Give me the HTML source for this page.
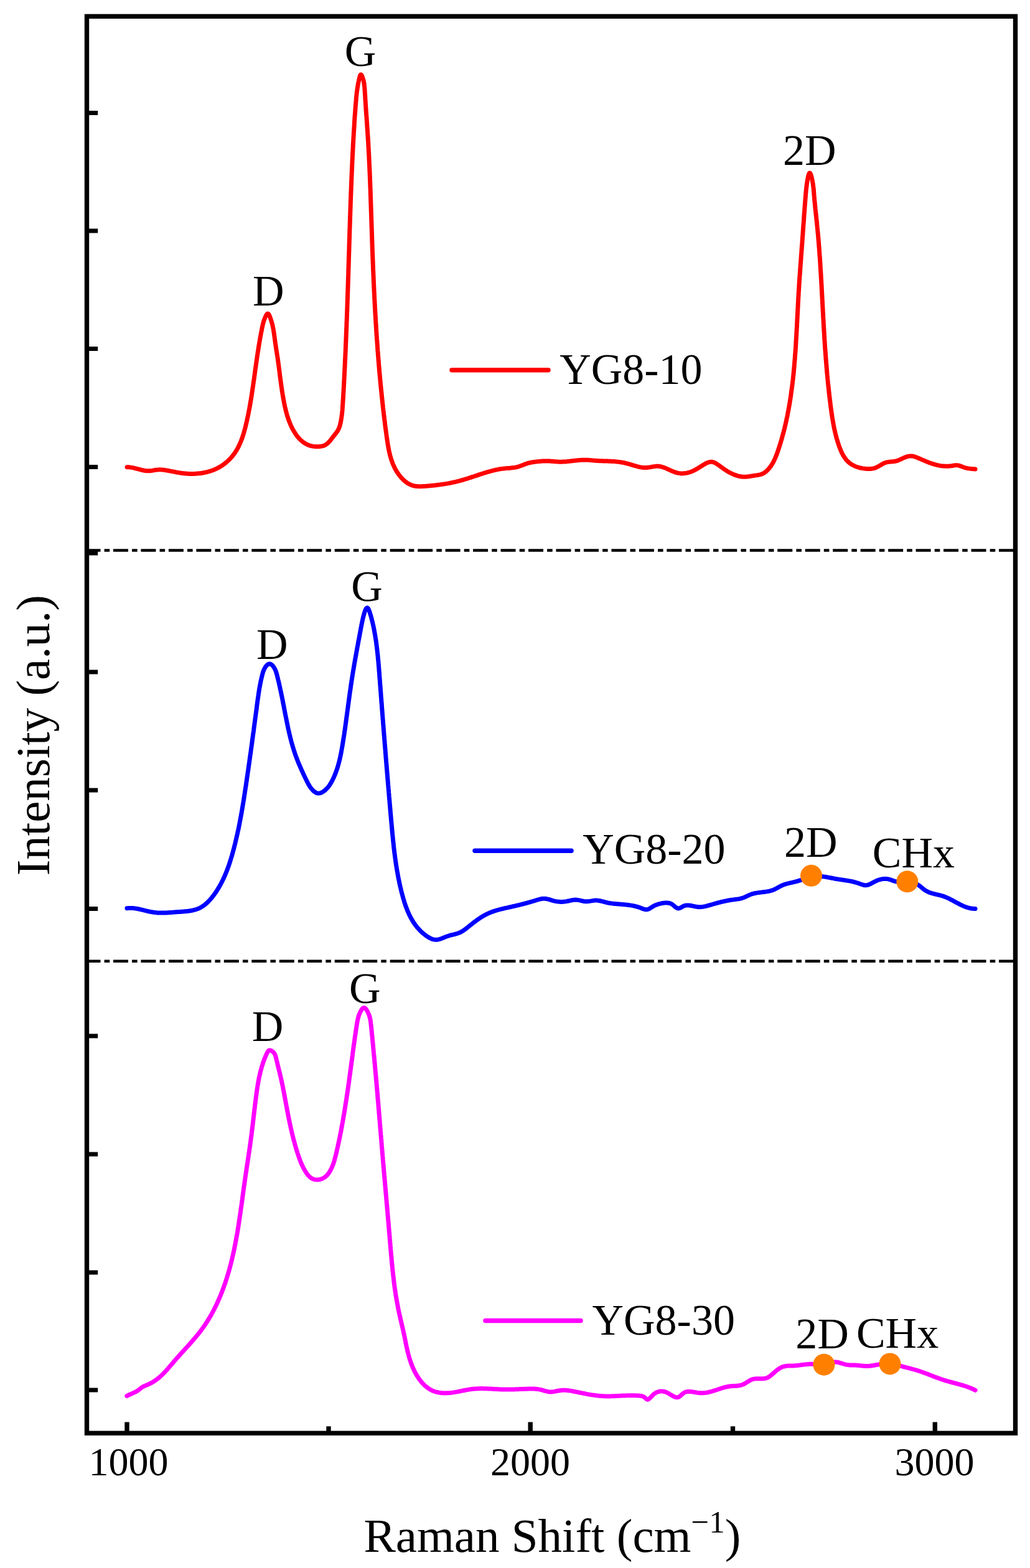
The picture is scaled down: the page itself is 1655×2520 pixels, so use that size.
<!DOCTYPE html>
<html><head><meta charset="utf-8"><title>Raman spectra</title>
<style>html,body{margin:0;padding:0;background:#fff;}svg{display:block;}</style>
</head><body>
<svg xmlns="http://www.w3.org/2000/svg" width="1655" height="2520" viewBox="0 0 1655 2520">
<rect width="1655" height="2520" fill="#fff"/>
<line x1="137.5" y1="884.5" x2="1631" y2="884.5" stroke="#000" stroke-width="4.6" stroke-dasharray="24 6.1 8.6 5.77"/>
<line x1="137.5" y1="1544.7" x2="1631" y2="1544.7" stroke="#000" stroke-width="4.6" stroke-dasharray="24 6.1 8.6 5.77"/>
<rect x="140" y="178.0" width="17.2" height="7" fill="#000"/>
<rect x="140" y="367.5" width="17.2" height="7" fill="#000"/>
<rect x="140" y="557.0" width="17.2" height="7" fill="#000"/>
<rect x="140" y="747.0" width="17.2" height="7" fill="#000"/>
<rect x="140" y="885.5" width="17.2" height="7" fill="#000"/>
<rect x="140" y="1076.5" width="17.2" height="7" fill="#000"/>
<rect x="140" y="1266.5" width="17.2" height="7" fill="#000"/>
<rect x="140" y="1457.0" width="17.2" height="7" fill="#000"/>
<rect x="140" y="1661.5" width="17.2" height="7" fill="#000"/>
<rect x="140" y="1851.5" width="17.2" height="7" fill="#000"/>
<rect x="140" y="2041.5" width="17.2" height="7" fill="#000"/>
<rect x="140" y="2230.5" width="17.2" height="7" fill="#000"/>
<rect x="200.3" y="2285.5" width="7.4" height="18" fill="#000"/>
<rect x="848.5" y="2285.5" width="7.4" height="18" fill="#000"/>
<rect x="1498.6" y="2285.5" width="7.4" height="18" fill="#000"/>
<rect x="524.3" y="2292.3" width="7.4" height="10" fill="#000"/>
<rect x="1173.8" y="2292.3" width="7.4" height="10" fill="#000"/>
<rect x="139.5" y="26.3" width="1492" height="2277" fill="none" stroke="#000" stroke-width="7.4"/>
<path d="M204.1,750.7 L205.6,750.7 L207.0,750.8 L208.5,750.9 L210.0,751.1 L211.5,751.4 L212.9,751.6 L214.4,751.9 L215.9,752.3 L217.4,752.7 L218.9,753.0 L220.3,753.4 L221.8,753.8 L223.3,754.2 L224.8,754.6 L226.3,755.0 L227.8,755.4 L229.3,755.7 L230.7,756.0 L232.2,756.3 L233.7,756.5 L235.2,756.7 L236.7,756.8 L238.2,756.8 L239.7,756.8 L241.2,756.7 L242.7,756.6 L244.2,756.4 L245.7,756.1 L247.1,755.8 L248.6,755.5 L250.1,755.3 L251.6,755.1 L253.1,754.9 L254.6,754.9 L256.1,754.8 L257.6,754.8 L259.1,754.9 L260.5,755.0 L262.0,755.1 L263.5,755.3 L265.0,755.5 L266.4,755.7 L267.9,756.0 L269.4,756.2 L270.9,756.5 L272.3,756.8 L273.8,757.1 L275.2,757.4 L276.7,757.7 L278.2,757.9 L279.6,758.2 L281.1,758.5 L282.5,758.8 L284.0,759.1 L285.4,759.3 L286.9,759.6 L288.4,759.8 L289.8,760.1 L291.3,760.3 L292.8,760.5 L294.3,760.7 L295.8,760.8 L297.3,761.0 L298.8,761.1 L300.3,761.2 L301.8,761.3 L303.3,761.4 L304.8,761.4 L306.3,761.5 L307.9,761.5 L309.4,761.5 L310.9,761.5 L312.4,761.4 L313.9,761.3 L315.4,761.2 L317.0,761.1 L318.5,761.0 L320.0,760.8 L321.5,760.7 L323.0,760.5 L324.5,760.3 L326.0,760.0 L327.5,759.7 L329.0,759.4 L330.4,759.1 L331.9,758.8 L333.4,758.4 L334.8,758.0 L336.3,757.6 L337.7,757.2 L339.1,756.7 L340.6,756.2 L342.0,755.7 L343.4,755.2 L344.7,754.6 L346.1,754.0 L347.5,753.4 L348.8,752.7 L350.2,752.0 L351.5,751.3 L352.8,750.6 L354.1,749.8 L355.4,749.1 L356.6,748.2 L357.9,747.4 L359.1,746.5 L360.3,745.6 L361.5,744.7 L362.7,743.8 L363.8,742.8 L364.9,741.9 L366.1,740.9 L367.2,739.8 L368.2,738.8 L369.3,737.7 L370.3,736.6 L371.3,735.5 L372.3,734.4 L373.3,733.3 L374.2,732.1 L375.1,730.9 L376.0,729.8 L376.9,728.5 L377.7,727.3 L378.5,726.1 L379.3,724.8 L380.1,723.6 L380.8,722.3 L381.6,721.0 L382.3,719.7 L383.0,718.4 L383.6,717.0 L384.3,715.7 L384.9,714.3 L385.5,713.0 L386.1,711.6 L386.7,710.2 L387.3,708.8 L387.8,707.4 L388.3,706.0 L388.9,704.6 L389.4,703.2 L389.9,701.7 L390.3,700.3 L390.8,698.9 L391.2,697.4 L391.7,696.0 L392.1,694.5 L392.5,693.0 L392.9,691.6 L393.3,690.1 L393.7,688.6 L394.1,687.1 L394.5,685.7 L394.8,684.2 L395.2,682.7 L395.5,681.2 L395.9,679.7 L396.2,678.3 L396.6,676.8 L396.9,675.3 L397.2,673.8 L397.5,672.4 L397.8,670.9 L398.2,669.4 L398.5,667.9 L398.8,666.5 L399.1,665.0 L399.4,663.5 L399.6,662.0 L399.9,660.6 L400.2,659.1 L400.5,657.6 L400.8,656.2 L401.0,654.7 L401.3,653.2 L401.6,651.7 L401.8,650.3 L402.1,648.8 L402.3,647.3 L402.6,645.9 L402.8,644.4 L403.1,642.9 L403.3,641.4 L403.6,640.0 L403.8,638.5 L404.0,637.0 L404.3,635.6 L404.5,634.1 L404.7,632.6 L404.9,631.1 L405.2,629.7 L405.4,628.2 L405.6,626.7 L405.8,625.2 L406.0,623.8 L406.3,622.3 L406.5,620.8 L406.7,619.3 L406.9,617.9 L407.1,616.4 L407.3,614.9 L407.5,613.4 L407.7,611.9 L408.0,610.5 L408.2,609.0 L408.4,607.5 L408.6,606.0 L408.8,604.5 L409.0,603.0 L409.2,601.6 L409.4,600.1 L409.6,598.6 L409.8,597.1 L410.0,595.6 L410.2,594.1 L410.4,592.6 L410.6,591.1 L410.9,589.6 L411.1,588.1 L411.3,586.6 L411.5,585.1 L411.7,583.6 L411.9,582.1 L412.1,580.6 L412.3,579.1 L412.6,577.6 L412.8,576.1 L413.0,574.6 L413.2,573.2 L413.4,571.7 L413.7,570.2 L413.9,568.7 L414.1,567.2 L414.3,565.7 L414.6,564.2 L414.8,562.7 L415.0,561.2 L415.3,559.7 L415.5,558.2 L415.7,556.8 L416.0,555.3 L416.2,553.8 L416.5,552.3 L416.7,550.8 L417.0,549.4 L417.2,547.9 L417.5,546.4 L417.7,545.0 L418.0,543.5 L418.2,542.0 L418.5,540.6 L418.8,539.1 L419.1,537.6 L419.3,536.2 L419.6,534.7 L419.9,533.3 L420.2,531.8 L420.5,530.4 L420.7,529.0 L421.0,527.5 L421.3,526.1 L421.6,524.7 L421.9,523.2 L422.3,521.8 L422.6,520.3 L423.0,518.9 L423.4,517.4 L423.9,515.9 L424.4,514.3 L425.0,512.8 L425.6,511.2 L426.3,509.5 L427.0,507.9 L427.8,506.5 L428.6,505.3 L429.3,504.4 L430.1,504.1 L430.9,504.2 L431.6,504.9 L432.3,506.0 L433.0,507.3 L433.6,508.9 L434.2,510.5 L434.8,512.1 L435.3,513.7 L435.8,515.3 L436.3,516.8 L436.7,518.4 L437.2,519.9 L437.5,521.4 L437.9,522.9 L438.2,524.4 L438.5,525.9 L438.8,527.4 L439.1,528.9 L439.4,530.4 L439.6,531.8 L439.9,533.3 L440.1,534.7 L440.3,536.2 L440.5,537.6 L440.7,539.1 L440.9,540.5 L441.1,542.0 L441.3,543.4 L441.5,544.8 L441.7,546.3 L441.9,547.7 L442.1,549.2 L442.3,550.7 L442.5,552.1 L442.7,553.6 L442.9,555.1 L443.2,556.5 L443.4,558.0 L443.6,559.5 L443.8,561.0 L444.1,562.5 L444.3,564.0 L444.5,565.5 L444.8,567.0 L445.0,568.5 L445.2,570.0 L445.5,571.4 L445.7,572.9 L445.9,574.4 L446.1,575.9 L446.4,577.4 L446.6,578.9 L446.8,580.4 L447.0,581.9 L447.2,583.4 L447.4,584.9 L447.6,586.4 L447.8,587.9 L448.0,589.4 L448.2,590.9 L448.4,592.4 L448.6,593.9 L448.8,595.4 L449.0,596.9 L449.2,598.4 L449.4,599.9 L449.5,601.4 L449.7,602.9 L449.9,604.4 L450.1,605.9 L450.3,607.4 L450.5,608.9 L450.7,610.3 L450.9,611.8 L451.1,613.3 L451.3,614.8 L451.5,616.3 L451.7,617.8 L451.9,619.3 L452.1,620.8 L452.3,622.3 L452.6,623.7 L452.8,625.2 L453.0,626.7 L453.2,628.2 L453.4,629.7 L453.7,631.1 L453.9,632.6 L454.1,634.1 L454.4,635.6 L454.6,637.0 L454.9,638.5 L455.2,640.0 L455.4,641.5 L455.7,642.9 L456.0,644.4 L456.2,645.9 L456.5,647.3 L456.8,648.8 L457.1,650.3 L457.4,651.7 L457.7,653.2 L458.1,654.6 L458.4,656.1 L458.7,657.5 L459.1,659.0 L459.4,660.4 L459.8,661.9 L460.2,663.3 L460.6,664.8 L461.0,666.2 L461.4,667.6 L461.8,669.1 L462.3,670.5 L462.8,671.9 L463.2,673.3 L463.7,674.7 L464.2,676.1 L464.8,677.5 L465.3,678.9 L465.9,680.3 L466.5,681.7 L467.1,683.1 L467.7,684.4 L468.3,685.8 L469.0,687.2 L469.7,688.5 L470.4,689.9 L471.1,691.2 L471.9,692.5 L472.7,693.8 L473.5,695.2 L474.3,696.4 L475.1,697.7 L476.0,699.0 L476.9,700.2 L477.8,701.4 L478.8,702.6 L479.8,703.7 L480.8,704.9 L481.8,705.9 L482.9,707.0 L484.0,708.0 L485.1,709.0 L486.2,709.9 L487.4,710.8 L488.6,711.6 L489.9,712.4 L491.1,713.2 L492.4,713.9 L493.8,714.5 L495.1,715.1 L496.5,715.6 L497.9,716.1 L499.4,716.5 L500.8,716.8 L502.3,717.1 L503.8,717.4 L505.3,717.6 L506.8,717.7 L508.3,717.8 L509.8,717.8 L511.3,717.8 L512.8,717.7 L514.3,717.5 L515.8,717.3 L517.3,717.1 L518.8,716.7 L520.2,716.3 L521.6,715.7 L522.9,715.0 L524.1,714.3 L525.3,713.4 L526.4,712.4 L527.5,711.4 L528.6,710.3 L529.6,709.2 L530.5,708.1 L531.5,706.9 L532.4,705.7 L533.3,704.5 L534.2,703.3 L535.1,702.1 L536.1,700.9 L537.0,699.7 L538.0,698.6 L538.9,697.4 L539.8,696.2 L540.7,695.0 L541.5,693.8 L542.4,692.6 L543.1,691.3 L543.8,690.0 L544.4,688.7 L545.0,687.3 L545.5,685.9 L546.0,684.4 L546.4,683.0 L546.7,681.5 L547.1,680.0 L547.4,678.5 L547.7,677.0 L548.0,675.5 L548.2,674.0 L548.5,672.6 L548.7,671.1 L548.9,669.6 L549.1,668.1 L549.3,666.6 L549.5,665.1 L549.6,663.6 L549.8,662.1 L549.9,660.6 L550.1,659.1 L550.2,657.6 L550.3,656.1 L550.4,654.6 L550.5,653.2 L550.6,651.7 L550.7,650.2 L550.8,648.7 L550.9,647.2 L551.0,645.7 L551.1,644.2 L551.2,642.7 L551.3,641.2 L551.4,639.7 L551.5,638.2 L551.5,636.7 L551.6,635.2 L551.7,633.7 L551.8,632.2 L551.9,630.7 L552.0,629.2 L552.0,627.7 L552.1,626.2 L552.2,624.7 L552.3,623.2 L552.4,621.7 L552.5,620.2 L552.5,618.7 L552.6,617.2 L552.7,615.7 L552.8,614.2 L552.9,612.7 L552.9,611.2 L553.0,609.7 L553.1,608.2 L553.2,606.7 L553.2,605.3 L553.3,603.8 L553.4,602.3 L553.5,600.8 L553.5,599.3 L553.6,597.8 L553.7,596.3 L553.8,594.8 L553.8,593.3 L553.9,591.8 L554.0,590.3 L554.1,588.8 L554.1,587.3 L554.2,585.8 L554.3,584.3 L554.3,582.8 L554.4,581.3 L554.5,579.8 L554.5,578.3 L554.6,576.8 L554.7,575.3 L554.8,573.8 L554.8,572.3 L554.9,570.8 L555.0,569.3 L555.0,567.8 L555.1,566.3 L555.2,564.8 L555.2,563.3 L555.3,561.8 L555.4,560.3 L555.4,558.8 L555.5,557.3 L555.5,555.8 L555.6,554.3 L555.7,552.8 L555.7,551.3 L555.8,549.8 L555.9,548.3 L555.9,546.8 L556.0,545.3 L556.0,543.8 L556.1,542.3 L556.2,540.8 L556.2,539.3 L556.3,537.8 L556.3,536.3 L556.4,534.8 L556.5,533.3 L556.5,531.8 L556.6,530.3 L556.6,528.8 L556.7,527.3 L556.8,525.8 L556.8,524.3 L556.9,522.8 L556.9,521.3 L557.0,519.8 L557.0,518.3 L557.1,516.8 L557.2,515.3 L557.2,513.8 L557.3,512.3 L557.3,510.8 L557.4,509.3 L557.4,507.8 L557.5,506.3 L557.5,504.8 L557.6,503.3 L557.7,501.8 L557.7,500.3 L557.8,498.8 L557.8,497.3 L557.9,495.8 L557.9,494.3 L558.0,492.8 L558.0,491.3 L558.1,489.8 L558.1,488.3 L558.2,486.7 L558.2,485.2 L558.3,483.7 L558.3,482.2 L558.4,480.7 L558.4,479.2 L558.5,477.7 L558.5,476.2 L558.6,474.7 L558.6,473.2 L558.7,471.7 L558.7,470.2 L558.8,468.7 L558.8,467.2 L558.9,465.7 L558.9,464.2 L559.0,462.7 L559.0,461.2 L559.1,459.7 L559.1,458.2 L559.2,456.7 L559.2,455.2 L559.3,453.7 L559.3,452.2 L559.4,450.7 L559.4,449.2 L559.5,447.7 L559.5,446.2 L559.6,444.7 L559.6,443.2 L559.7,441.7 L559.7,440.2 L559.8,438.7 L559.8,437.2 L559.8,435.7 L559.9,434.2 L559.9,432.7 L560.0,431.2 L560.0,429.7 L560.1,428.2 L560.1,426.7 L560.2,425.2 L560.2,423.7 L560.3,422.2 L560.3,420.7 L560.4,419.2 L560.4,417.7 L560.4,416.2 L560.5,414.7 L560.5,413.2 L560.6,411.7 L560.6,410.2 L560.7,408.7 L560.7,407.2 L560.8,405.7 L560.8,404.3 L560.9,402.8 L560.9,401.3 L561.0,399.8 L561.0,398.3 L561.0,396.8 L561.1,395.3 L561.1,393.8 L561.2,392.3 L561.2,390.8 L561.3,389.3 L561.3,387.8 L561.4,386.3 L561.4,384.8 L561.5,383.3 L561.5,381.8 L561.6,380.3 L561.6,378.8 L561.6,377.3 L561.7,375.8 L561.7,374.3 L561.8,372.8 L561.8,371.3 L561.9,369.8 L561.9,368.3 L562.0,366.8 L562.0,365.3 L562.1,363.8 L562.1,362.3 L562.2,360.8 L562.2,359.3 L562.3,357.8 L562.3,356.3 L562.4,354.8 L562.4,353.3 L562.5,351.8 L562.5,350.3 L562.6,348.8 L562.6,347.3 L562.7,345.8 L562.7,344.3 L562.8,342.8 L562.8,341.3 L562.9,339.8 L562.9,338.3 L563.0,336.8 L563.0,335.3 L563.1,333.8 L563.1,332.3 L563.2,330.8 L563.2,329.3 L563.3,327.8 L563.3,326.3 L563.4,324.8 L563.4,323.3 L563.5,321.8 L563.5,320.3 L563.6,318.8 L563.7,317.3 L563.7,315.8 L563.8,314.3 L563.8,312.8 L563.9,311.3 L563.9,309.8 L564.0,308.3 L564.0,306.8 L564.1,305.3 L564.2,303.8 L564.2,302.3 L564.3,300.8 L564.3,299.3 L564.4,297.8 L564.5,296.3 L564.5,294.8 L564.6,293.3 L564.6,291.8 L564.7,290.3 L564.8,288.8 L564.8,287.3 L564.9,285.8 L564.9,284.3 L565.0,282.8 L565.1,281.3 L565.1,279.8 L565.2,278.3 L565.3,276.8 L565.3,275.3 L565.4,273.8 L565.5,272.3 L565.5,270.8 L565.6,269.3 L565.7,267.8 L565.7,266.3 L565.8,264.8 L565.9,263.3 L565.9,261.8 L566.0,260.3 L566.1,258.8 L566.1,257.3 L566.2,255.8 L566.3,254.3 L566.4,252.8 L566.4,251.3 L566.5,249.8 L566.6,248.3 L566.7,246.8 L566.7,245.3 L566.8,243.8 L566.9,242.3 L567.0,240.8 L567.0,239.3 L567.1,237.8 L567.2,236.3 L567.3,234.7 L567.3,233.2 L567.4,231.7 L567.5,230.2 L567.6,228.7 L567.7,227.2 L567.7,225.7 L567.8,224.2 L567.9,222.7 L568.0,221.2 L568.1,219.7 L568.2,218.2 L568.3,216.7 L568.3,215.2 L568.4,213.7 L568.5,212.2 L568.6,210.7 L568.7,209.2 L568.8,207.7 L568.9,206.2 L569.0,204.7 L569.1,203.2 L569.2,201.7 L569.3,200.2 L569.3,198.7 L569.4,197.2 L569.5,195.7 L569.6,194.2 L569.7,192.7 L569.8,191.2 L569.9,189.8 L570.0,188.3 L570.1,186.8 L570.2,185.3 L570.4,183.8 L570.5,182.3 L570.6,180.8 L570.7,179.3 L570.8,177.9 L570.9,176.4 L571.0,174.9 L571.1,173.4 L571.2,171.9 L571.3,170.5 L571.5,169.0 L571.6,167.5 L571.7,166.0 L571.8,164.6 L571.9,163.1 L572.1,161.6 L572.2,160.2 L572.3,158.7 L572.4,157.2 L572.6,155.7 L572.7,154.3 L572.9,152.8 L573.1,151.3 L573.2,149.8 L573.4,148.3 L573.6,146.8 L573.8,145.3 L574.0,143.8 L574.2,142.3 L574.4,140.7 L574.7,139.2 L574.9,137.6 L575.2,136.1 L575.5,134.5 L575.8,132.9 L576.1,131.4 L576.5,129.7 L576.8,128.1 L577.2,126.5 L577.6,124.9 L578.0,123.3 L578.4,121.8 L578.9,120.7 L579.4,120.0 L580.0,119.8 L580.6,120.2 L581.2,121.2 L581.8,122.5 L582.4,124.0 L583.0,125.7 L583.5,127.4 L584.0,129.0 L584.3,130.6 L584.7,132.2 L584.9,133.7 L585.2,135.2 L585.4,136.7 L585.5,138.1 L585.7,139.6 L585.8,141.0 L585.9,142.5 L586.0,143.9 L586.1,145.4 L586.2,146.9 L586.3,148.3 L586.4,149.8 L586.5,151.3 L586.6,152.8 L586.7,154.3 L586.8,155.8 L586.8,157.3 L586.9,158.8 L587.0,160.3 L587.1,161.8 L587.2,163.3 L587.3,164.8 L587.4,166.3 L587.5,167.8 L587.6,169.3 L587.7,170.8 L587.8,172.3 L587.9,173.8 L588.0,175.3 L588.1,176.8 L588.2,178.3 L588.3,179.8 L588.4,181.3 L588.5,182.8 L588.6,184.3 L588.8,185.8 L588.9,187.3 L589.0,188.8 L589.1,190.3 L589.2,191.8 L589.3,193.3 L589.4,194.8 L589.5,196.3 L589.6,197.8 L589.7,199.3 L589.8,200.8 L589.9,202.3 L590.0,203.8 L590.1,205.3 L590.2,206.8 L590.3,208.3 L590.4,209.8 L590.5,211.3 L590.6,212.8 L590.7,214.3 L590.8,215.8 L590.9,217.3 L591.0,218.8 L591.1,220.3 L591.2,221.8 L591.3,223.3 L591.4,224.8 L591.5,226.3 L591.6,227.7 L591.7,229.2 L591.8,230.7 L591.8,232.2 L591.9,233.7 L592.0,235.2 L592.1,236.7 L592.2,238.2 L592.3,239.7 L592.3,241.2 L592.4,242.7 L592.5,244.2 L592.6,245.7 L592.7,247.2 L592.7,248.7 L592.8,250.2 L592.9,251.7 L593.0,253.2 L593.0,254.7 L593.1,256.2 L593.2,257.7 L593.2,259.2 L593.3,260.7 L593.4,262.2 L593.5,263.7 L593.5,265.2 L593.6,266.7 L593.7,268.2 L593.7,269.7 L593.8,271.2 L593.9,272.7 L593.9,274.2 L594.0,275.7 L594.1,277.2 L594.1,278.7 L594.2,280.2 L594.2,281.7 L594.3,283.2 L594.4,284.7 L594.4,286.2 L594.5,287.7 L594.5,289.2 L594.6,290.7 L594.7,292.2 L594.7,293.7 L594.8,295.2 L594.8,296.7 L594.9,298.2 L594.9,299.7 L595.0,301.2 L595.1,302.7 L595.1,304.2 L595.2,305.7 L595.2,307.2 L595.3,308.7 L595.3,310.2 L595.4,311.7 L595.4,313.2 L595.5,314.7 L595.5,316.2 L595.6,317.7 L595.6,319.2 L595.7,320.7 L595.7,322.2 L595.8,323.7 L595.8,325.2 L595.9,326.7 L595.9,328.2 L596.0,329.7 L596.0,331.2 L596.1,332.7 L596.1,334.2 L596.2,335.7 L596.2,337.2 L596.3,338.7 L596.3,340.2 L596.4,341.7 L596.4,343.2 L596.5,344.7 L596.5,346.2 L596.6,347.7 L596.6,349.2 L596.7,350.7 L596.7,352.2 L596.8,353.7 L596.8,355.2 L596.9,356.7 L596.9,358.2 L597.0,359.7 L597.0,361.2 L597.1,362.7 L597.1,364.2 L597.2,365.7 L597.2,367.2 L597.3,368.7 L597.3,370.2 L597.4,371.7 L597.4,373.2 L597.5,374.7 L597.5,376.2 L597.6,377.7 L597.6,379.2 L597.7,380.7 L597.7,382.2 L597.8,383.7 L597.8,385.2 L597.9,386.7 L597.9,388.2 L598.0,389.7 L598.0,391.2 L598.1,392.7 L598.1,394.2 L598.2,395.7 L598.2,397.2 L598.3,398.7 L598.3,400.2 L598.4,401.7 L598.4,403.2 L598.5,404.7 L598.6,406.2 L598.6,407.7 L598.7,409.2 L598.7,410.7 L598.8,412.2 L598.8,413.7 L598.9,415.2 L598.9,416.7 L599.0,418.2 L599.1,419.7 L599.1,421.2 L599.2,422.7 L599.2,424.2 L599.3,425.7 L599.4,427.2 L599.4,428.7 L599.5,430.2 L599.5,431.7 L599.6,433.2 L599.7,434.7 L599.7,436.2 L599.8,437.7 L599.9,439.2 L599.9,440.7 L600.0,442.2 L600.0,443.7 L600.1,445.2 L600.2,446.7 L600.2,448.2 L600.3,449.7 L600.4,451.2 L600.4,452.7 L600.5,454.2 L600.6,455.7 L600.6,457.2 L600.7,458.7 L600.8,460.2 L600.8,461.7 L600.9,463.2 L601.0,464.7 L601.1,466.2 L601.1,467.7 L601.2,469.2 L601.3,470.7 L601.4,472.2 L601.4,473.7 L601.5,475.2 L601.6,476.7 L601.6,478.2 L601.7,479.7 L601.8,481.2 L601.9,482.7 L602.0,484.2 L602.0,485.7 L602.1,487.2 L602.2,488.7 L602.3,490.2 L602.3,491.7 L602.4,493.2 L602.5,494.7 L602.6,496.2 L602.7,497.7 L602.8,499.2 L602.8,500.7 L602.9,502.2 L603.0,503.7 L603.1,505.2 L603.2,506.7 L603.3,508.2 L603.4,509.7 L603.4,511.2 L603.5,512.7 L603.6,514.2 L603.7,515.7 L603.8,517.2 L603.9,518.7 L604.0,520.2 L604.1,521.7 L604.2,523.2 L604.3,524.7 L604.4,526.2 L604.5,527.6 L604.5,529.1 L604.6,530.6 L604.7,532.1 L604.8,533.6 L604.9,535.1 L605.0,536.6 L605.1,538.1 L605.2,539.6 L605.3,541.1 L605.4,542.6 L605.5,544.1 L605.6,545.6 L605.8,547.1 L605.9,548.6 L606.0,550.1 L606.1,551.6 L606.2,553.1 L606.3,554.6 L606.4,556.1 L606.5,557.6 L606.6,559.1 L606.7,560.6 L606.8,562.1 L606.9,563.6 L607.1,565.1 L607.2,566.6 L607.3,568.1 L607.4,569.6 L607.5,571.1 L607.6,572.6 L607.8,574.0 L607.9,575.5 L608.0,577.0 L608.1,578.5 L608.2,580.0 L608.4,581.5 L608.5,583.0 L608.6,584.5 L608.7,586.0 L608.8,587.5 L609.0,589.0 L609.1,590.5 L609.2,592.0 L609.4,593.5 L609.5,595.0 L609.6,596.5 L609.7,598.0 L609.9,599.5 L610.0,600.9 L610.1,602.4 L610.3,603.9 L610.4,605.4 L610.6,606.9 L610.7,608.4 L610.8,609.9 L611.0,611.4 L611.1,612.9 L611.2,614.4 L611.4,615.9 L611.5,617.4 L611.7,618.9 L611.8,620.3 L612.0,621.8 L612.1,623.3 L612.3,624.8 L612.4,626.3 L612.6,627.8 L612.7,629.3 L612.9,630.8 L613.0,632.3 L613.2,633.8 L613.3,635.3 L613.5,636.8 L613.6,638.2 L613.8,639.7 L614.0,641.2 L614.1,642.7 L614.3,644.2 L614.4,645.7 L614.6,647.2 L614.8,648.7 L614.9,650.2 L615.1,651.7 L615.3,653.2 L615.4,654.6 L615.6,656.1 L615.8,657.6 L615.9,659.1 L616.1,660.6 L616.3,662.1 L616.5,663.6 L616.6,665.1 L616.8,666.6 L617.0,668.1 L617.2,669.6 L617.3,671.0 L617.5,672.5 L617.7,674.0 L617.9,675.5 L618.1,677.0 L618.3,678.5 L618.5,680.0 L618.6,681.5 L618.8,683.0 L619.0,684.5 L619.2,686.0 L619.4,687.5 L619.6,689.0 L619.8,690.5 L620.0,691.9 L620.2,693.4 L620.4,694.9 L620.6,696.4 L620.8,697.9 L621.0,699.4 L621.2,700.9 L621.4,702.4 L621.6,703.9 L621.8,705.4 L622.1,706.9 L622.3,708.4 L622.5,709.9 L622.7,711.4 L623.0,712.9 L623.2,714.3 L623.4,715.8 L623.7,717.3 L624.0,718.8 L624.2,720.3 L624.5,721.7 L624.8,723.2 L625.1,724.7 L625.4,726.1 L625.8,727.6 L626.1,729.1 L626.4,730.5 L626.8,732.0 L627.2,733.4 L627.6,734.8 L628.0,736.3 L628.5,737.7 L628.9,739.1 L629.4,740.5 L629.9,741.9 L630.4,743.3 L630.9,744.7 L631.5,746.1 L632.1,747.4 L632.7,748.8 L633.3,750.1 L634.0,751.5 L634.6,752.8 L635.3,754.1 L636.1,755.4 L636.8,756.8 L637.6,758.0 L638.4,759.3 L639.3,760.6 L640.2,761.9 L641.1,763.1 L642.0,764.3 L642.9,765.5 L643.9,766.7 L644.9,767.9 L646.0,769.0 L647.1,770.1 L648.2,771.1 L649.3,772.2 L650.4,773.2 L651.6,774.1 L652.8,775.0 L654.0,775.9 L655.3,776.7 L656.5,777.4 L657.8,778.1 L659.1,778.8 L660.5,779.3 L661.9,779.9 L663.2,780.3 L664.6,780.7 L666.1,781.0 L667.5,781.3 L669.0,781.5 L670.5,781.6 L672.0,781.7 L673.5,781.8 L675.0,781.8 L676.5,781.8 L678.0,781.7 L679.6,781.6 L681.1,781.5 L682.6,781.4 L684.2,781.3 L685.7,781.2 L687.2,781.1 L688.8,780.9 L690.3,780.8 L691.8,780.6 L693.3,780.5 L694.8,780.3 L696.3,780.2 L697.8,780.0 L699.3,779.9 L700.8,779.7 L702.3,779.5 L703.8,779.3 L705.3,779.1 L706.8,778.9 L708.3,778.7 L709.8,778.5 L711.3,778.3 L712.7,778.1 L714.2,777.9 L715.7,777.6 L717.2,777.4 L718.6,777.1 L720.1,776.9 L721.6,776.6 L723.0,776.3 L724.5,776.0 L725.9,775.7 L727.4,775.4 L728.8,775.1 L730.3,774.8 L731.8,774.4 L733.2,774.1 L734.7,773.7 L736.1,773.4 L737.5,773.0 L739.0,772.6 L740.4,772.2 L741.9,771.8 L743.3,771.4 L744.8,771.0 L746.2,770.5 L747.6,770.1 L749.1,769.7 L750.5,769.2 L751.9,768.8 L753.4,768.3 L754.8,767.8 L756.2,767.4 L757.7,766.9 L759.1,766.4 L760.5,766.0 L762.0,765.5 L763.4,765.0 L764.8,764.5 L766.3,764.1 L767.7,763.6 L769.1,763.1 L770.5,762.6 L772.0,762.2 L773.4,761.7 L774.8,761.3 L776.3,760.8 L777.7,760.3 L779.1,759.9 L780.6,759.5 L782.0,759.0 L783.5,758.6 L784.9,758.2 L786.3,757.8 L787.8,757.4 L789.2,757.0 L790.7,756.6 L792.1,756.2 L793.6,755.9 L795.0,755.5 L796.5,755.2 L797.9,754.9 L799.4,754.6 L800.8,754.3 L802.3,754.0 L803.8,753.8 L805.3,753.6 L806.8,753.4 L808.3,753.2 L809.8,753.0 L811.3,752.9 L812.8,752.7 L814.3,752.6 L815.8,752.5 L817.3,752.4 L818.8,752.3 L820.3,752.1 L821.8,752.0 L823.3,751.8 L824.8,751.6 L826.3,751.4 L827.8,751.2 L829.3,750.9 L830.7,750.6 L832.2,750.2 L833.6,749.8 L835.0,749.3 L836.4,748.8 L837.8,748.3 L839.2,747.7 L840.6,747.2 L842.0,746.6 L843.4,746.1 L844.8,745.5 L846.2,745.1 L847.7,744.6 L849.1,744.2 L850.6,743.8 L852.0,743.5 L853.5,743.2 L855.0,742.9 L856.5,742.7 L858.0,742.5 L859.4,742.3 L860.9,742.1 L862.4,741.9 L864.0,741.8 L865.5,741.6 L867.0,741.5 L868.5,741.4 L870.0,741.2 L871.5,741.1 L873.0,741.1 L874.5,741.0 L876.0,741.0 L877.4,740.9 L878.9,741.0 L880.4,741.0 L881.9,741.1 L883.4,741.1 L884.9,741.2 L886.4,741.4 L887.9,741.5 L889.4,741.6 L890.9,741.7 L892.4,741.8 L893.9,741.9 L895.4,742.0 L896.9,742.1 L898.4,742.2 L899.9,742.2 L901.4,742.2 L902.9,742.2 L904.4,742.1 L905.9,742.1 L907.3,742.0 L908.8,741.9 L910.3,741.8 L911.8,741.6 L913.3,741.5 L914.8,741.3 L916.3,741.1 L917.8,741.0 L919.3,740.8 L920.8,740.6 L922.3,740.5 L923.8,740.3 L925.3,740.1 L926.8,740.0 L928.3,739.8 L929.8,739.7 L931.3,739.5 L932.8,739.4 L934.3,739.3 L935.8,739.3 L937.3,739.2 L938.8,739.2 L940.3,739.2 L941.8,739.2 L943.3,739.3 L944.8,739.3 L946.3,739.4 L947.8,739.6 L949.3,739.7 L950.8,739.8 L952.3,739.9 L953.8,740.1 L955.3,740.2 L956.8,740.3 L958.3,740.4 L959.8,740.5 L961.3,740.6 L962.8,740.7 L964.3,740.7 L965.8,740.8 L967.3,740.8 L968.8,740.9 L970.3,740.9 L971.8,741.0 L973.3,741.0 L974.8,741.1 L976.3,741.1 L977.8,741.2 L979.3,741.2 L980.8,741.3 L982.3,741.4 L983.8,741.4 L985.3,741.5 L986.7,741.6 L988.2,741.7 L989.7,741.9 L991.2,742.0 L992.7,742.2 L994.2,742.4 L995.7,742.6 L997.2,742.8 L998.6,743.0 L1000.1,743.3 L1001.6,743.5 L1003.1,743.8 L1004.5,744.2 L1006.0,744.5 L1007.4,744.9 L1008.9,745.3 L1010.4,745.7 L1011.8,746.1 L1013.3,746.5 L1014.7,747.0 L1016.2,747.4 L1017.6,747.9 L1019.1,748.3 L1020.5,748.7 L1022.0,749.1 L1023.4,749.5 L1024.9,749.9 L1026.3,750.3 L1027.8,750.6 L1029.3,750.9 L1030.7,751.1 L1032.2,751.3 L1033.7,751.4 L1035.2,751.5 L1036.7,751.6 L1038.2,751.6 L1039.7,751.5 L1041.2,751.3 L1042.7,751.1 L1044.3,750.9 L1045.8,750.6 L1047.3,750.3 L1048.9,750.1 L1050.4,749.8 L1051.9,749.6 L1053.4,749.4 L1054.9,749.3 L1056.4,749.3 L1057.9,749.3 L1059.3,749.5 L1060.8,749.7 L1062.2,750.0 L1063.6,750.3 L1065.0,750.8 L1066.4,751.2 L1067.8,751.8 L1069.2,752.3 L1070.6,752.9 L1072.0,753.5 L1073.4,754.1 L1074.8,754.8 L1076.1,755.4 L1077.5,756.0 L1078.9,756.7 L1080.3,757.3 L1081.7,757.8 L1083.1,758.4 L1084.5,758.9 L1086.0,759.4 L1087.4,759.8 L1088.9,760.1 L1090.3,760.4 L1091.8,760.6 L1093.3,760.8 L1094.8,760.9 L1096.3,760.9 L1097.9,760.8 L1099.4,760.7 L1100.9,760.6 L1102.3,760.4 L1103.8,760.1 L1105.3,759.7 L1106.7,759.4 L1108.1,758.9 L1109.5,758.5 L1110.9,757.9 L1112.2,757.4 L1113.6,756.8 L1114.9,756.2 L1116.2,755.5 L1117.5,754.8 L1118.8,754.1 L1120.1,753.3 L1121.4,752.6 L1122.7,751.8 L1124.0,751.0 L1125.3,750.1 L1126.7,749.3 L1128.0,748.4 L1129.4,747.6 L1130.8,746.7 L1132.1,745.9 L1133.5,745.2 L1134.9,744.4 L1136.3,743.8 L1137.8,743.2 L1139.2,742.8 L1140.6,742.5 L1142.0,742.3 L1143.4,742.3 L1144.8,742.5 L1146.2,742.8 L1147.6,743.3 L1149.0,744.0 L1150.3,744.7 L1151.7,745.6 L1153.0,746.4 L1154.3,747.3 L1155.6,748.2 L1156.8,749.1 L1158.0,750.0 L1159.3,750.9 L1160.5,751.8 L1161.7,752.6 L1162.9,753.5 L1164.1,754.3 L1165.3,755.1 L1166.5,755.9 L1167.7,756.7 L1169.0,757.5 L1170.2,758.2 L1171.5,759.0 L1172.8,759.7 L1174.2,760.4 L1175.6,761.0 L1176.9,761.7 L1178.3,762.3 L1179.8,762.9 L1181.2,763.4 L1182.6,763.9 L1184.1,764.4 L1185.5,764.8 L1187.0,765.2 L1188.5,765.5 L1189.9,765.8 L1191.4,766.0 L1192.9,766.2 L1194.4,766.3 L1195.8,766.3 L1197.3,766.3 L1198.8,766.3 L1200.2,766.1 L1201.7,766.0 L1203.2,765.8 L1204.6,765.6 L1206.1,765.3 L1207.6,765.1 L1209.1,764.8 L1210.6,764.6 L1212.1,764.3 L1213.6,764.1 L1215.1,763.9 L1216.6,763.7 L1218.2,763.4 L1219.7,763.1 L1221.1,762.8 L1222.6,762.4 L1224.0,761.9 L1225.4,761.3 L1226.7,760.7 L1228.0,759.9 L1229.2,759.0 L1230.4,758.1 L1231.6,757.1 L1232.7,756.1 L1233.7,755.0 L1234.8,753.9 L1235.7,752.8 L1236.7,751.6 L1237.6,750.4 L1238.5,749.2 L1239.3,748.0 L1240.1,746.8 L1240.9,745.5 L1241.7,744.2 L1242.4,742.9 L1243.1,741.6 L1243.7,740.3 L1244.4,738.9 L1245.0,737.6 L1245.6,736.2 L1246.2,734.8 L1246.8,733.4 L1247.3,732.0 L1247.9,730.6 L1248.4,729.2 L1248.9,727.8 L1249.4,726.3 L1249.9,724.9 L1250.4,723.5 L1250.9,722.1 L1251.3,720.6 L1251.8,719.2 L1252.3,717.7 L1252.7,716.3 L1253.2,714.9 L1253.6,713.4 L1254.1,712.0 L1254.5,710.6 L1254.9,709.1 L1255.4,707.7 L1255.8,706.2 L1256.2,704.8 L1256.6,703.3 L1257.0,701.9 L1257.4,700.4 L1257.8,699.0 L1258.2,697.5 L1258.6,696.1 L1259.0,694.6 L1259.4,693.2 L1259.7,691.7 L1260.1,690.3 L1260.5,688.8 L1260.8,687.4 L1261.2,685.9 L1261.5,684.4 L1261.9,683.0 L1262.2,681.5 L1262.5,680.1 L1262.9,678.6 L1263.2,677.1 L1263.5,675.7 L1263.8,674.2 L1264.1,672.7 L1264.4,671.3 L1264.8,669.8 L1265.1,668.3 L1265.4,666.9 L1265.6,665.4 L1265.9,663.9 L1266.2,662.5 L1266.5,661.0 L1266.8,659.5 L1267.0,658.1 L1267.3,656.6 L1267.6,655.1 L1267.8,653.6 L1268.1,652.2 L1268.4,650.7 L1268.6,649.2 L1268.9,647.7 L1269.1,646.3 L1269.3,644.8 L1269.6,643.3 L1269.8,641.8 L1270.0,640.3 L1270.3,638.9 L1270.5,637.4 L1270.7,635.9 L1270.9,634.4 L1271.1,632.9 L1271.3,631.4 L1271.5,630.0 L1271.7,628.5 L1271.9,627.0 L1272.1,625.5 L1272.3,624.0 L1272.5,622.5 L1272.7,621.0 L1272.9,619.6 L1273.1,618.1 L1273.3,616.6 L1273.4,615.1 L1273.6,613.6 L1273.8,612.1 L1274.0,610.6 L1274.1,609.1 L1274.3,607.6 L1274.4,606.1 L1274.6,604.6 L1274.8,603.2 L1274.9,601.7 L1275.1,600.2 L1275.2,598.7 L1275.4,597.2 L1275.5,595.7 L1275.6,594.2 L1275.8,592.7 L1275.9,591.2 L1276.1,589.7 L1276.2,588.2 L1276.3,586.7 L1276.4,585.2 L1276.6,583.7 L1276.7,582.2 L1276.8,580.7 L1276.9,579.2 L1277.1,577.7 L1277.2,576.2 L1277.3,574.7 L1277.4,573.2 L1277.5,571.7 L1277.6,570.2 L1277.7,568.7 L1277.9,567.2 L1278.0,565.7 L1278.1,564.2 L1278.2,562.7 L1278.3,561.2 L1278.4,559.7 L1278.5,558.2 L1278.6,556.7 L1278.7,555.2 L1278.8,553.7 L1278.9,552.2 L1278.9,550.7 L1279.0,549.2 L1279.1,547.7 L1279.2,546.2 L1279.3,544.7 L1279.4,543.2 L1279.5,541.7 L1279.6,540.2 L1279.7,538.7 L1279.7,537.2 L1279.8,535.7 L1279.9,534.2 L1280.0,532.7 L1280.1,531.2 L1280.1,529.7 L1280.2,528.2 L1280.3,526.7 L1280.4,525.2 L1280.5,523.7 L1280.5,522.2 L1280.6,520.7 L1280.7,519.2 L1280.8,517.7 L1280.9,516.2 L1280.9,514.7 L1281.0,513.2 L1281.1,511.7 L1281.2,510.2 L1281.2,508.7 L1281.3,507.2 L1281.4,505.7 L1281.5,504.2 L1281.5,502.7 L1281.6,501.2 L1281.7,499.7 L1281.8,498.2 L1281.8,496.7 L1281.9,495.2 L1282.0,493.7 L1282.1,492.2 L1282.2,490.7 L1282.2,489.2 L1282.3,487.7 L1282.4,486.2 L1282.5,484.7 L1282.6,483.2 L1282.6,481.7 L1282.7,480.2 L1282.8,478.7 L1282.9,477.2 L1283.0,475.7 L1283.1,474.2 L1283.1,472.7 L1283.2,471.2 L1283.3,469.7 L1283.4,468.2 L1283.5,466.8 L1283.6,465.3 L1283.7,463.8 L1283.8,462.3 L1283.9,460.8 L1283.9,459.3 L1284.0,457.8 L1284.1,456.3 L1284.2,454.8 L1284.3,453.3 L1284.4,451.8 L1284.5,450.3 L1284.6,448.9 L1284.7,447.4 L1284.8,445.9 L1284.9,444.4 L1285.0,442.9 L1285.1,441.4 L1285.3,439.9 L1285.4,438.4 L1285.5,436.9 L1285.6,435.4 L1285.7,433.9 L1285.8,432.5 L1285.9,431.0 L1286.0,429.5 L1286.1,428.0 L1286.2,426.5 L1286.3,425.0 L1286.4,423.5 L1286.5,422.0 L1286.7,420.5 L1286.8,419.0 L1286.9,417.5 L1287.0,416.0 L1287.1,414.5 L1287.2,413.0 L1287.3,411.5 L1287.4,410.0 L1287.5,408.5 L1287.7,407.0 L1287.8,405.5 L1287.9,404.0 L1288.0,402.5 L1288.1,401.0 L1288.2,399.5 L1288.3,398.0 L1288.4,396.5 L1288.5,395.0 L1288.7,393.5 L1288.8,392.0 L1288.9,390.5 L1289.0,389.0 L1289.1,387.5 L1289.2,386.0 L1289.3,384.4 L1289.4,382.9 L1289.5,381.4 L1289.6,379.9 L1289.8,378.4 L1289.9,376.9 L1290.0,375.4 L1290.1,373.8 L1290.2,372.3 L1290.3,370.8 L1290.4,369.3 L1290.5,367.8 L1290.6,366.3 L1290.7,364.8 L1290.8,363.3 L1290.9,361.8 L1291.0,360.2 L1291.2,358.7 L1291.3,357.2 L1291.4,355.7 L1291.5,354.2 L1291.6,352.7 L1291.7,351.2 L1291.8,349.7 L1291.9,348.2 L1292.0,346.7 L1292.1,345.2 L1292.2,343.8 L1292.3,342.3 L1292.5,340.8 L1292.6,339.3 L1292.7,337.8 L1292.8,336.3 L1292.9,334.9 L1293.0,333.4 L1293.1,331.9 L1293.2,330.5 L1293.3,329.0 L1293.5,327.5 L1293.6,326.1 L1293.7,324.6 L1293.8,323.2 L1293.9,321.7 L1294.0,320.3 L1294.1,318.9 L1294.2,317.4 L1294.4,316.0 L1294.5,314.6 L1294.6,313.1 L1294.7,311.7 L1294.8,310.3 L1295.0,308.9 L1295.1,307.5 L1295.2,306.0 L1295.4,304.6 L1295.5,303.1 L1295.7,301.5 L1295.9,300.0 L1296.1,298.4 L1296.3,296.7 L1296.5,295.0 L1296.8,293.3 L1297.1,291.4 L1297.4,289.6 L1297.7,287.6 L1298.1,285.7 L1298.5,283.9 L1298.9,282.2 L1299.3,280.7 L1299.8,279.5 L1300.3,278.5 L1300.7,278.0 L1301.2,277.9 L1301.7,278.3 L1302.2,279.1 L1302.7,280.2 L1303.2,281.6 L1303.7,283.3 L1304.2,285.1 L1304.6,287.0 L1305.0,288.9 L1305.4,290.8 L1305.7,292.7 L1306.0,294.4 L1306.3,296.1 L1306.5,297.7 L1306.7,299.2 L1306.9,300.7 L1307.1,302.2 L1307.2,303.6 L1307.4,305.0 L1307.5,306.4 L1307.6,307.7 L1307.7,309.1 L1307.8,310.5 L1307.9,311.8 L1308.0,313.2 L1308.1,314.6 L1308.3,316.1 L1308.4,317.5 L1308.5,319.0 L1308.6,320.4 L1308.8,321.9 L1308.9,323.4 L1309.1,324.9 L1309.2,326.4 L1309.4,328.0 L1309.5,329.5 L1309.7,331.0 L1309.8,332.5 L1310.0,334.1 L1310.1,335.6 L1310.3,337.1 L1310.5,338.6 L1310.6,340.2 L1310.8,341.7 L1310.9,343.2 L1311.1,344.7 L1311.3,346.2 L1311.4,347.7 L1311.6,349.2 L1311.7,350.7 L1311.9,352.2 L1312.1,353.7 L1312.2,355.2 L1312.4,356.7 L1312.5,358.2 L1312.7,359.6 L1312.8,361.1 L1313.0,362.6 L1313.1,364.1 L1313.3,365.6 L1313.4,367.1 L1313.6,368.6 L1313.7,370.1 L1313.9,371.6 L1314.0,373.1 L1314.1,374.6 L1314.3,376.0 L1314.4,377.5 L1314.6,379.0 L1314.7,380.5 L1314.8,382.0 L1314.9,383.5 L1315.1,385.0 L1315.2,386.5 L1315.3,388.0 L1315.4,389.5 L1315.6,391.0 L1315.7,392.5 L1315.8,394.0 L1315.9,395.5 L1316.0,397.0 L1316.2,398.5 L1316.3,399.9 L1316.4,401.4 L1316.5,402.9 L1316.6,404.4 L1316.7,405.9 L1316.8,407.4 L1316.9,408.9 L1317.0,410.4 L1317.1,411.9 L1317.3,413.4 L1317.4,414.9 L1317.5,416.4 L1317.6,417.9 L1317.7,419.4 L1317.8,420.9 L1317.9,422.4 L1318.0,423.9 L1318.0,425.4 L1318.1,426.9 L1318.2,428.4 L1318.3,429.9 L1318.4,431.4 L1318.5,432.9 L1318.6,434.4 L1318.7,435.9 L1318.8,437.4 L1318.9,438.9 L1319.0,440.4 L1319.1,441.9 L1319.1,443.3 L1319.2,444.8 L1319.3,446.3 L1319.4,447.8 L1319.5,449.3 L1319.6,450.8 L1319.7,452.3 L1319.7,453.8 L1319.8,455.3 L1319.9,456.8 L1320.0,458.3 L1320.1,459.8 L1320.2,461.3 L1320.2,462.8 L1320.3,464.3 L1320.4,465.8 L1320.5,467.3 L1320.6,468.8 L1320.6,470.3 L1320.7,471.8 L1320.8,473.3 L1320.9,474.8 L1321.0,476.3 L1321.0,477.8 L1321.1,479.3 L1321.2,480.8 L1321.3,482.3 L1321.4,483.8 L1321.4,485.3 L1321.5,486.8 L1321.6,488.3 L1321.7,489.8 L1321.8,491.3 L1321.8,492.8 L1321.9,494.3 L1322.0,495.8 L1322.1,497.3 L1322.2,498.8 L1322.2,500.3 L1322.3,501.8 L1322.4,503.3 L1322.5,504.8 L1322.6,506.3 L1322.6,507.8 L1322.7,509.3 L1322.8,510.8 L1322.9,512.3 L1323.0,513.8 L1323.1,515.3 L1323.1,516.8 L1323.2,518.3 L1323.3,519.8 L1323.4,521.3 L1323.5,522.8 L1323.6,524.3 L1323.6,525.8 L1323.7,527.3 L1323.8,528.8 L1323.9,530.3 L1324.0,531.8 L1324.1,533.3 L1324.2,534.8 L1324.3,536.3 L1324.4,537.8 L1324.5,539.3 L1324.6,540.8 L1324.6,542.3 L1324.7,543.8 L1324.8,545.3 L1324.9,546.8 L1325.0,548.3 L1325.1,549.8 L1325.2,551.3 L1325.3,552.8 L1325.4,554.3 L1325.5,555.8 L1325.6,557.3 L1325.7,558.8 L1325.8,560.3 L1325.9,561.8 L1326.0,563.3 L1326.2,564.8 L1326.3,566.2 L1326.4,567.7 L1326.5,569.2 L1326.6,570.7 L1326.7,572.2 L1326.8,573.7 L1326.9,575.2 L1327.0,576.7 L1327.2,578.2 L1327.3,579.7 L1327.4,581.2 L1327.5,582.7 L1327.6,584.2 L1327.8,585.7 L1327.9,587.2 L1328.0,588.7 L1328.1,590.2 L1328.3,591.7 L1328.4,593.2 L1328.5,594.7 L1328.6,596.2 L1328.8,597.7 L1328.9,599.2 L1329.0,600.6 L1329.2,602.1 L1329.3,603.6 L1329.5,605.1 L1329.6,606.6 L1329.7,608.1 L1329.9,609.6 L1330.0,611.1 L1330.2,612.6 L1330.3,614.1 L1330.5,615.6 L1330.6,617.1 L1330.8,618.6 L1330.9,620.1 L1331.1,621.5 L1331.2,623.0 L1331.4,624.5 L1331.6,626.0 L1331.7,627.5 L1331.9,629.0 L1332.0,630.5 L1332.2,632.0 L1332.4,633.5 L1332.5,635.0 L1332.7,636.5 L1332.9,637.9 L1333.1,639.4 L1333.2,640.9 L1333.4,642.4 L1333.6,643.9 L1333.8,645.4 L1334.0,646.9 L1334.2,648.4 L1334.3,649.9 L1334.5,651.3 L1334.7,652.8 L1334.9,654.3 L1335.1,655.8 L1335.3,657.3 L1335.5,658.8 L1335.7,660.3 L1335.9,661.7 L1336.1,663.2 L1336.3,664.7 L1336.6,666.2 L1336.8,667.7 L1337.0,669.2 L1337.2,670.6 L1337.5,672.1 L1337.7,673.6 L1338.0,675.1 L1338.2,676.6 L1338.5,678.0 L1338.7,679.5 L1339.0,681.0 L1339.3,682.5 L1339.5,683.9 L1339.8,685.4 L1340.1,686.9 L1340.4,688.4 L1340.7,689.8 L1341.1,691.3 L1341.4,692.8 L1341.7,694.2 L1342.1,695.7 L1342.4,697.1 L1342.8,698.6 L1343.2,700.0 L1343.5,701.5 L1343.9,703.0 L1344.3,704.4 L1344.7,705.9 L1345.2,707.3 L1345.6,708.8 L1346.0,710.2 L1346.5,711.6 L1347.0,713.1 L1347.4,714.5 L1347.9,715.9 L1348.4,717.4 L1348.9,718.8 L1349.5,720.2 L1350.0,721.6 L1350.6,723.0 L1351.2,724.4 L1351.8,725.8 L1352.4,727.2 L1353.1,728.5 L1353.8,729.9 L1354.5,731.2 L1355.2,732.4 L1356.0,733.7 L1356.8,734.9 L1357.6,736.1 L1358.5,737.3 L1359.4,738.5 L1360.3,739.6 L1361.3,740.6 L1362.3,741.7 L1363.4,742.7 L1364.5,743.6 L1365.6,744.5 L1366.8,745.4 L1368.1,746.2 L1369.4,747.0 L1370.7,747.7 L1372.1,748.4 L1373.5,749.1 L1374.9,749.7 L1376.4,750.2 L1377.9,750.7 L1379.4,751.2 L1380.9,751.6 L1382.4,752.0 L1384.0,752.3 L1385.5,752.6 L1387.1,752.9 L1388.6,753.1 L1390.1,753.2 L1391.7,753.4 L1393.2,753.4 L1394.7,753.5 L1396.2,753.5 L1397.7,753.5 L1399.1,753.4 L1400.5,753.3 L1402.0,753.1 L1403.3,752.8 L1404.7,752.5 L1406.1,752.1 L1407.4,751.5 L1408.8,750.9 L1410.1,750.3 L1411.4,749.5 L1412.7,748.8 L1414.1,748.0 L1415.4,747.2 L1416.7,746.4 L1418.1,745.6 L1419.4,744.9 L1420.8,744.3 L1422.2,743.7 L1423.6,743.2 L1425.1,742.9 L1426.6,742.6 L1428.0,742.4 L1429.5,742.2 L1431.0,742.1 L1432.5,741.9 L1434.0,741.8 L1435.5,741.7 L1437.0,741.5 L1438.5,741.3 L1439.9,740.9 L1441.4,740.5 L1442.8,740.1 L1444.1,739.5 L1445.5,738.9 L1446.9,738.3 L1448.2,737.7 L1449.6,737.0 L1451.0,736.4 L1452.4,735.7 L1453.8,735.1 L1455.2,734.6 L1456.6,734.1 L1458.1,733.7 L1459.6,733.3 L1461.1,733.1 L1462.6,732.9 L1464.0,732.9 L1465.5,733.0 L1467.0,733.2 L1468.4,733.6 L1469.9,734.0 L1471.3,734.5 L1472.7,735.0 L1474.1,735.6 L1475.5,736.2 L1476.9,736.8 L1478.3,737.4 L1479.7,738.0 L1481.1,738.6 L1482.5,739.2 L1483.9,739.8 L1485.3,740.4 L1486.7,741.0 L1488.0,741.5 L1489.4,742.1 L1490.8,742.6 L1492.2,743.2 L1493.6,743.7 L1495.0,744.2 L1496.4,744.7 L1497.8,745.2 L1499.2,745.6 L1500.7,746.0 L1502.1,746.5 L1503.5,746.8 L1504.9,747.2 L1506.4,747.6 L1507.8,747.9 L1509.3,748.2 L1510.8,748.4 L1512.3,748.7 L1513.8,748.9 L1515.3,749.0 L1516.8,749.1 L1518.3,749.2 L1519.8,749.3 L1521.4,749.3 L1522.9,749.3 L1524.4,749.2 L1525.9,749.1 L1527.5,748.9 L1529.0,748.7 L1530.5,748.5 L1532.0,748.2 L1533.4,748.0 L1534.9,747.8 L1536.4,747.7 L1537.8,747.7 L1539.3,747.9 L1540.7,748.2 L1542.1,748.6 L1543.5,749.1 L1544.9,749.6 L1546.4,750.2 L1547.8,750.7 L1549.2,751.2 L1550.7,751.7 L1552.1,752.1 L1553.6,752.4 L1555.1,752.7 L1556.5,752.9 L1558.0,753.1 L1559.5,753.3 L1561.0,753.4 L1562.5,753.6 L1564.0,753.7 L1565.5,753.8 L1567.0,754.0" fill="none" stroke="#ff0000" stroke-width="7" stroke-linejoin="round" stroke-linecap="round"/>
<path d="M204.0,1459.8 L205.5,1459.6 L206.9,1459.5 L208.4,1459.4 L209.9,1459.4 L211.4,1459.4 L212.9,1459.5 L214.3,1459.6 L215.8,1459.8 L217.3,1459.9 L218.8,1460.2 L220.3,1460.4 L221.8,1460.7 L223.3,1461.0 L224.8,1461.4 L226.3,1461.7 L227.8,1462.1 L229.3,1462.4 L230.8,1462.8 L232.3,1463.2 L233.8,1463.6 L235.3,1463.9 L236.8,1464.3 L238.3,1464.6 L239.8,1465.0 L241.3,1465.3 L242.8,1465.6 L244.3,1465.8 L245.8,1466.1 L247.2,1466.3 L248.7,1466.5 L250.2,1466.6 L251.7,1466.8 L253.1,1466.9 L254.6,1467.0 L256.1,1467.0 L257.5,1467.1 L259.0,1467.1 L260.5,1467.1 L261.9,1467.1 L263.4,1467.1 L264.8,1467.0 L266.3,1467.0 L267.8,1466.9 L269.3,1466.8 L270.7,1466.7 L272.2,1466.6 L273.7,1466.5 L275.2,1466.4 L276.7,1466.3 L278.2,1466.2 L279.7,1466.1 L281.2,1466.0 L282.7,1465.8 L284.2,1465.7 L285.7,1465.6 L287.3,1465.5 L288.8,1465.4 L290.3,1465.3 L291.9,1465.2 L293.4,1465.1 L295.0,1464.9 L296.5,1464.8 L298.1,1464.7 L299.6,1464.5 L301.2,1464.4 L302.7,1464.2 L304.2,1464.0 L305.7,1463.7 L307.2,1463.5 L308.7,1463.2 L310.2,1462.9 L311.7,1462.5 L313.1,1462.2 L314.6,1461.7 L316.0,1461.3 L317.4,1460.8 L318.7,1460.2 L320.1,1459.7 L321.4,1459.0 L322.7,1458.3 L323.9,1457.6 L325.2,1456.8 L326.4,1456.0 L327.6,1455.2 L328.8,1454.3 L329.9,1453.3 L331.1,1452.4 L332.2,1451.4 L333.3,1450.4 L334.3,1449.3 L335.4,1448.2 L336.4,1447.1 L337.4,1446.0 L338.4,1444.9 L339.4,1443.7 L340.4,1442.6 L341.3,1441.4 L342.2,1440.2 L343.2,1439.0 L344.1,1437.8 L344.9,1436.5 L345.8,1435.3 L346.7,1434.1 L347.5,1432.8 L348.3,1431.6 L349.1,1430.3 L349.9,1429.0 L350.7,1427.7 L351.5,1426.5 L352.3,1425.2 L353.0,1423.9 L353.7,1422.6 L354.5,1421.2 L355.2,1419.9 L355.9,1418.6 L356.5,1417.3 L357.2,1415.9 L357.9,1414.6 L358.5,1413.2 L359.2,1411.9 L359.8,1410.5 L360.4,1409.2 L361.0,1407.8 L361.6,1406.4 L362.2,1405.0 L362.8,1403.6 L363.3,1402.3 L363.9,1400.9 L364.5,1399.5 L365.0,1398.1 L365.5,1396.7 L366.0,1395.2 L366.6,1393.8 L367.1,1392.4 L367.6,1391.0 L368.1,1389.6 L368.5,1388.1 L369.0,1386.7 L369.5,1385.3 L369.9,1383.8 L370.4,1382.4 L370.8,1381.0 L371.3,1379.5 L371.7,1378.1 L372.1,1376.6 L372.6,1375.2 L373.0,1373.7 L373.4,1372.3 L373.8,1370.8 L374.2,1369.4 L374.6,1367.9 L375.0,1366.5 L375.4,1365.0 L375.8,1363.6 L376.1,1362.1 L376.5,1360.6 L376.9,1359.2 L377.3,1357.7 L377.6,1356.3 L378.0,1354.8 L378.3,1353.3 L378.7,1351.9 L379.0,1350.4 L379.4,1349.0 L379.7,1347.5 L380.1,1346.0 L380.4,1344.6 L380.7,1343.1 L381.1,1341.6 L381.4,1340.2 L381.7,1338.7 L382.0,1337.2 L382.3,1335.8 L382.7,1334.3 L383.0,1332.8 L383.3,1331.4 L383.6,1329.9 L383.9,1328.4 L384.2,1327.0 L384.5,1325.5 L384.8,1324.0 L385.0,1322.6 L385.3,1321.1 L385.6,1319.6 L385.9,1318.1 L386.2,1316.7 L386.4,1315.2 L386.7,1313.7 L387.0,1312.3 L387.3,1310.8 L387.5,1309.3 L387.8,1307.8 L388.1,1306.4 L388.3,1304.9 L388.6,1303.4 L388.8,1301.9 L389.1,1300.5 L389.3,1299.0 L389.6,1297.5 L389.8,1296.0 L390.1,1294.5 L390.3,1293.1 L390.6,1291.6 L390.8,1290.1 L391.1,1288.6 L391.3,1287.2 L391.5,1285.7 L391.8,1284.2 L392.0,1282.7 L392.2,1281.2 L392.5,1279.7 L392.7,1278.3 L392.9,1276.8 L393.2,1275.3 L393.4,1273.8 L393.6,1272.3 L393.8,1270.9 L394.1,1269.4 L394.3,1267.9 L394.5,1266.4 L394.7,1264.9 L395.0,1263.4 L395.2,1262.0 L395.4,1260.5 L395.6,1259.0 L395.8,1257.5 L396.1,1256.0 L396.3,1254.5 L396.5,1253.0 L396.7,1251.6 L396.9,1250.1 L397.1,1248.6 L397.4,1247.1 L397.6,1245.6 L397.8,1244.1 L398.0,1242.6 L398.2,1241.1 L398.4,1239.7 L398.7,1238.2 L398.9,1236.7 L399.1,1235.2 L399.3,1233.7 L399.5,1232.2 L399.7,1230.7 L399.9,1229.2 L400.2,1227.8 L400.4,1226.3 L400.6,1224.8 L400.8,1223.3 L401.0,1221.8 L401.2,1220.3 L401.4,1218.8 L401.6,1217.3 L401.8,1215.8 L402.0,1214.3 L402.2,1212.9 L402.5,1211.4 L402.7,1209.9 L402.9,1208.4 L403.1,1206.9 L403.3,1205.4 L403.5,1203.9 L403.7,1202.4 L403.9,1200.9 L404.1,1199.5 L404.3,1198.0 L404.5,1196.5 L404.7,1195.0 L404.9,1193.5 L405.1,1192.0 L405.3,1190.5 L405.5,1189.0 L405.7,1187.5 L405.9,1186.0 L406.1,1184.6 L406.3,1183.1 L406.5,1181.6 L406.7,1180.1 L406.9,1178.6 L407.2,1177.1 L407.4,1175.6 L407.6,1174.1 L407.7,1172.7 L407.9,1171.2 L408.1,1169.7 L408.3,1168.2 L408.5,1166.7 L408.7,1165.2 L408.9,1163.7 L409.1,1162.2 L409.3,1160.8 L409.5,1159.3 L409.7,1157.8 L409.9,1156.3 L410.1,1154.8 L410.3,1153.3 L410.5,1151.8 L410.7,1150.4 L410.9,1148.9 L411.1,1147.4 L411.3,1145.9 L411.5,1144.4 L411.7,1142.9 L411.9,1141.5 L412.1,1140.0 L412.3,1138.5 L412.5,1137.0 L412.6,1135.5 L412.8,1134.0 L413.0,1132.6 L413.2,1131.1 L413.4,1129.6 L413.6,1128.1 L413.8,1126.6 L414.0,1125.2 L414.2,1123.7 L414.4,1122.2 L414.6,1120.7 L414.9,1119.2 L415.1,1117.7 L415.3,1116.3 L415.5,1114.8 L415.7,1113.3 L416.0,1111.8 L416.2,1110.3 L416.4,1108.9 L416.7,1107.4 L416.9,1105.9 L417.2,1104.4 L417.5,1102.9 L417.7,1101.4 L418.0,1100.0 L418.3,1098.5 L418.6,1097.0 L418.9,1095.5 L419.2,1094.0 L419.5,1092.5 L419.9,1091.1 L420.2,1089.6 L420.5,1088.1 L420.9,1086.6 L421.3,1085.1 L421.7,1083.6 L422.1,1082.1 L422.5,1080.7 L423.0,1079.2 L423.5,1077.8 L424.1,1076.4 L424.8,1075.0 L425.5,1073.6 L426.3,1072.3 L427.2,1071.0 L428.2,1069.8 L429.2,1068.7 L430.3,1067.8 L431.5,1067.2 L432.7,1066.9 L433.9,1067.0 L435.0,1067.4 L436.2,1068.2 L437.4,1069.1 L438.4,1070.3 L439.4,1071.5 L440.3,1072.9 L441.1,1074.2 L441.8,1075.6 L442.5,1077.0 L443.1,1078.4 L443.6,1079.8 L444.0,1081.3 L444.5,1082.8 L444.9,1084.2 L445.3,1085.7 L445.6,1087.2 L446.0,1088.7 L446.4,1090.2 L446.7,1091.7 L447.1,1093.1 L447.4,1094.6 L447.8,1096.1 L448.1,1097.5 L448.5,1099.0 L448.8,1100.5 L449.1,1102.0 L449.5,1103.4 L449.8,1104.9 L450.1,1106.4 L450.4,1107.8 L450.7,1109.3 L451.1,1110.7 L451.4,1112.2 L451.7,1113.7 L452.0,1115.1 L452.3,1116.6 L452.6,1118.1 L452.9,1119.5 L453.2,1121.0 L453.5,1122.4 L453.8,1123.9 L454.1,1125.4 L454.3,1126.8 L454.6,1128.3 L454.9,1129.8 L455.2,1131.2 L455.5,1132.7 L455.8,1134.2 L456.1,1135.6 L456.3,1137.1 L456.6,1138.6 L456.9,1140.1 L457.2,1141.5 L457.5,1143.0 L457.8,1144.5 L458.0,1145.9 L458.3,1147.4 L458.6,1148.9 L458.9,1150.4 L459.2,1151.8 L459.5,1153.3 L459.8,1154.8 L460.1,1156.3 L460.4,1157.7 L460.7,1159.2 L461.0,1160.7 L461.3,1162.2 L461.6,1163.6 L461.9,1165.1 L462.2,1166.6 L462.5,1168.1 L462.8,1169.5 L463.1,1171.0 L463.4,1172.5 L463.8,1173.9 L464.1,1175.4 L464.4,1176.9 L464.8,1178.3 L465.1,1179.8 L465.5,1181.3 L465.8,1182.7 L466.2,1184.2 L466.5,1185.6 L466.9,1187.1 L467.3,1188.6 L467.7,1190.0 L468.0,1191.5 L468.4,1192.9 L468.8,1194.4 L469.2,1195.8 L469.6,1197.2 L470.1,1198.7 L470.5,1200.1 L470.9,1201.6 L471.4,1203.0 L471.8,1204.4 L472.2,1205.9 L472.7,1207.3 L473.2,1208.7 L473.7,1210.1 L474.1,1211.6 L474.6,1213.0 L475.1,1214.4 L475.6,1215.8 L476.2,1217.2 L476.7,1218.6 L477.2,1220.0 L477.8,1221.4 L478.3,1222.8 L478.9,1224.2 L479.4,1225.6 L480.0,1227.0 L480.6,1228.4 L481.2,1229.8 L481.8,1231.1 L482.4,1232.5 L483.0,1233.9 L483.6,1235.3 L484.2,1236.6 L484.8,1238.0 L485.4,1239.4 L486.1,1240.7 L486.7,1242.1 L487.3,1243.5 L488.0,1244.8 L488.6,1246.2 L489.2,1247.5 L489.9,1248.9 L490.5,1250.2 L491.2,1251.6 L491.8,1252.9 L492.5,1254.3 L493.1,1255.6 L493.8,1256.9 L494.5,1258.3 L495.2,1259.6 L495.9,1260.9 L496.7,1262.2 L497.5,1263.5 L498.3,1264.8 L499.2,1266.0 L500.2,1267.3 L501.2,1268.5 L502.3,1269.7 L503.4,1270.8 L504.6,1271.9 L505.8,1272.8 L507.1,1273.6 L508.4,1274.3 L509.7,1274.7 L511.1,1274.9 L512.5,1274.9 L513.9,1274.7 L515.4,1274.3 L516.8,1273.7 L518.1,1273.0 L519.5,1272.1 L520.8,1271.2 L522.0,1270.2 L523.2,1269.2 L524.3,1268.2 L525.4,1267.0 L526.4,1265.9 L527.4,1264.7 L528.3,1263.5 L529.2,1262.3 L530.0,1261.0 L530.8,1259.8 L531.6,1258.5 L532.4,1257.1 L533.1,1255.8 L533.8,1254.5 L534.5,1253.2 L535.1,1251.8 L535.8,1250.5 L536.4,1249.1 L537.0,1247.7 L537.6,1246.4 L538.2,1245.0 L538.7,1243.6 L539.3,1242.2 L539.8,1240.8 L540.3,1239.4 L540.8,1238.0 L541.3,1236.6 L541.8,1235.1 L542.2,1233.7 L542.7,1232.3 L543.1,1230.8 L543.5,1229.4 L543.9,1228.0 L544.3,1226.5 L544.7,1225.1 L545.1,1223.6 L545.4,1222.1 L545.8,1220.7 L546.1,1219.2 L546.4,1217.7 L546.8,1216.3 L547.1,1214.8 L547.4,1213.3 L547.7,1211.8 L548.0,1210.4 L548.3,1208.9 L548.5,1207.4 L548.8,1205.9 L549.1,1204.4 L549.3,1202.9 L549.6,1201.4 L549.9,1200.0 L550.1,1198.5 L550.4,1197.0 L550.6,1195.5 L550.9,1194.0 L551.1,1192.5 L551.3,1191.0 L551.6,1189.6 L551.8,1188.1 L552.0,1186.6 L552.3,1185.1 L552.5,1183.6 L552.7,1182.1 L553.0,1180.6 L553.2,1179.2 L553.4,1177.7 L553.6,1176.2 L553.8,1174.7 L554.1,1173.2 L554.3,1171.7 L554.5,1170.3 L554.7,1168.8 L554.9,1167.3 L555.1,1165.8 L555.3,1164.3 L555.5,1162.8 L555.7,1161.4 L555.9,1159.9 L556.1,1158.4 L556.3,1156.9 L556.5,1155.4 L556.7,1153.9 L556.9,1152.5 L557.1,1151.0 L557.3,1149.5 L557.5,1148.0 L557.7,1146.5 L557.9,1145.1 L558.1,1143.6 L558.3,1142.1 L558.5,1140.6 L558.7,1139.1 L558.9,1137.6 L559.1,1136.2 L559.3,1134.7 L559.5,1133.2 L559.7,1131.7 L559.9,1130.2 L560.1,1128.7 L560.3,1127.3 L560.5,1125.8 L560.7,1124.3 L560.9,1122.8 L561.1,1121.3 L561.3,1119.8 L561.5,1118.3 L561.7,1116.9 L561.9,1115.4 L562.1,1113.9 L562.3,1112.4 L562.5,1110.9 L562.8,1109.4 L563.0,1107.9 L563.2,1106.5 L563.4,1105.0 L563.6,1103.5 L563.8,1102.0 L564.0,1100.5 L564.3,1099.0 L564.5,1097.5 L564.7,1096.0 L564.9,1094.5 L565.2,1093.1 L565.4,1091.6 L565.6,1090.1 L565.8,1088.6 L566.1,1087.1 L566.3,1085.6 L566.6,1084.1 L566.8,1082.6 L567.0,1081.1 L567.3,1079.6 L567.5,1078.1 L567.8,1076.7 L568.0,1075.2 L568.3,1073.7 L568.5,1072.2 L568.8,1070.7 L569.0,1069.2 L569.3,1067.7 L569.5,1066.2 L569.8,1064.7 L570.1,1063.2 L570.3,1061.8 L570.6,1060.3 L570.8,1058.8 L571.1,1057.3 L571.4,1055.8 L571.6,1054.3 L571.9,1052.8 L572.2,1051.4 L572.4,1049.9 L572.7,1048.4 L573.0,1046.9 L573.2,1045.5 L573.5,1044.0 L573.8,1042.5 L574.0,1041.0 L574.3,1039.6 L574.6,1038.1 L574.9,1036.6 L575.1,1035.2 L575.4,1033.7 L575.7,1032.2 L575.9,1030.8 L576.2,1029.3 L576.5,1027.9 L576.8,1026.4 L577.0,1024.9 L577.3,1023.5 L577.6,1022.0 L577.9,1020.6 L578.1,1019.1 L578.4,1017.7 L578.7,1016.3 L578.9,1014.8 L579.2,1013.4 L579.5,1012.0 L579.7,1010.5 L580.0,1009.1 L580.3,1007.7 L580.6,1006.2 L580.8,1004.8 L581.1,1003.4 L581.4,1001.9 L581.7,1000.5 L582.0,999.0 L582.3,997.5 L582.7,995.9 L583.0,994.3 L583.4,992.7 L583.8,991.0 L584.3,989.3 L584.8,987.5 L585.3,985.7 L585.8,983.9 L586.4,982.2 L587.0,980.6 L587.6,979.3 L588.2,978.2 L588.9,977.3 L589.5,976.9 L590.1,976.8 L590.8,977.1 L591.4,977.8 L592.0,978.8 L592.6,980.1 L593.2,981.6 L593.8,983.2 L594.4,985.0 L594.9,986.8 L595.5,988.6 L596.0,990.3 L596.4,992.0 L596.9,993.7 L597.3,995.3 L597.7,996.8 L598.1,998.4 L598.5,999.9 L598.8,1001.3 L599.1,1002.8 L599.5,1004.2 L599.8,1005.7 L600.1,1007.1 L600.4,1008.5 L600.7,1010.0 L601.0,1011.4 L601.2,1012.9 L601.5,1014.3 L601.8,1015.7 L602.0,1017.2 L602.3,1018.6 L602.5,1020.1 L602.8,1021.5 L603.0,1023.0 L603.3,1024.5 L603.5,1025.9 L603.7,1027.4 L603.9,1028.8 L604.2,1030.3 L604.4,1031.8 L604.6,1033.2 L604.8,1034.7 L605.0,1036.2 L605.1,1037.7 L605.3,1039.1 L605.5,1040.6 L605.7,1042.1 L605.9,1043.6 L606.0,1045.1 L606.2,1046.5 L606.4,1048.0 L606.5,1049.5 L606.7,1051.0 L606.9,1052.5 L607.0,1054.0 L607.2,1055.5 L607.3,1057.0 L607.4,1058.5 L607.6,1060.0 L607.7,1061.4 L607.9,1062.9 L608.0,1064.4 L608.1,1065.9 L608.3,1067.4 L608.4,1068.9 L608.5,1070.4 L608.6,1071.9 L608.8,1073.4 L608.9,1074.9 L609.0,1076.4 L609.1,1077.9 L609.2,1079.4 L609.4,1080.9 L609.5,1082.4 L609.6,1083.9 L609.7,1085.4 L609.8,1086.9 L609.9,1088.4 L610.0,1090.0 L610.2,1091.5 L610.3,1093.0 L610.4,1094.5 L610.5,1096.0 L610.6,1097.5 L610.7,1099.0 L610.8,1100.5 L611.0,1102.0 L611.1,1103.5 L611.2,1105.0 L611.3,1106.5 L611.4,1108.0 L611.5,1109.5 L611.7,1111.0 L611.8,1112.5 L611.9,1114.0 L612.0,1115.5 L612.1,1117.0 L612.2,1118.5 L612.3,1120.0 L612.5,1121.5 L612.6,1123.0 L612.7,1124.5 L612.8,1126.0 L612.9,1127.5 L613.0,1129.0 L613.2,1130.5 L613.3,1132.0 L613.4,1133.5 L613.5,1135.0 L613.6,1136.5 L613.7,1138.0 L613.8,1139.5 L614.0,1141.0 L614.1,1142.5 L614.2,1144.0 L614.3,1145.5 L614.4,1147.0 L614.5,1148.5 L614.7,1150.0 L614.8,1151.5 L614.9,1153.0 L615.0,1154.5 L615.1,1155.9 L615.3,1157.4 L615.4,1158.9 L615.5,1160.4 L615.6,1161.9 L615.7,1163.4 L615.8,1164.9 L616.0,1166.4 L616.1,1167.9 L616.2,1169.4 L616.3,1170.9 L616.4,1172.4 L616.5,1173.9 L616.7,1175.4 L616.8,1176.9 L616.9,1178.4 L617.0,1179.9 L617.1,1181.4 L617.3,1182.9 L617.4,1184.4 L617.5,1185.9 L617.6,1187.4 L617.7,1188.9 L617.9,1190.4 L618.0,1191.9 L618.1,1193.4 L618.2,1194.9 L618.3,1196.4 L618.5,1197.9 L618.6,1199.3 L618.7,1200.8 L618.8,1202.3 L618.9,1203.8 L619.1,1205.3 L619.2,1206.8 L619.3,1208.3 L619.4,1209.8 L619.5,1211.3 L619.7,1212.8 L619.8,1214.3 L619.9,1215.8 L620.0,1217.3 L620.1,1218.8 L620.3,1220.3 L620.4,1221.8 L620.5,1223.3 L620.6,1224.8 L620.8,1226.3 L620.9,1227.8 L621.0,1229.3 L621.1,1230.7 L621.2,1232.2 L621.4,1233.7 L621.5,1235.2 L621.6,1236.7 L621.7,1238.2 L621.9,1239.7 L622.0,1241.2 L622.1,1242.7 L622.2,1244.2 L622.4,1245.7 L622.5,1247.2 L622.6,1248.7 L622.7,1250.2 L622.9,1251.7 L623.0,1253.2 L623.1,1254.7 L623.2,1256.2 L623.4,1257.6 L623.5,1259.1 L623.6,1260.6 L623.7,1262.1 L623.9,1263.6 L624.0,1265.1 L624.1,1266.6 L624.2,1268.1 L624.4,1269.6 L624.5,1271.1 L624.6,1272.6 L624.7,1274.1 L624.9,1275.6 L625.0,1277.1 L625.1,1278.6 L625.2,1280.1 L625.4,1281.6 L625.5,1283.0 L625.6,1284.5 L625.8,1286.0 L625.9,1287.5 L626.0,1289.0 L626.1,1290.5 L626.3,1292.0 L626.4,1293.5 L626.5,1295.0 L626.7,1296.5 L626.8,1298.0 L626.9,1299.5 L627.0,1301.0 L627.2,1302.5 L627.3,1304.0 L627.4,1305.5 L627.6,1307.0 L627.7,1308.4 L627.8,1309.9 L628.0,1311.4 L628.1,1312.9 L628.2,1314.4 L628.4,1315.9 L628.5,1317.4 L628.6,1318.9 L628.8,1320.4 L628.9,1321.9 L629.0,1323.4 L629.2,1324.9 L629.3,1326.4 L629.4,1327.9 L629.6,1329.4 L629.7,1330.9 L629.8,1332.4 L630.0,1333.9 L630.1,1335.3 L630.2,1336.8 L630.4,1338.3 L630.5,1339.8 L630.7,1341.3 L630.8,1342.8 L631.0,1344.3 L631.1,1345.8 L631.3,1347.3 L631.4,1348.8 L631.6,1350.3 L631.7,1351.8 L631.9,1353.3 L632.0,1354.8 L632.2,1356.3 L632.4,1357.7 L632.5,1359.2 L632.7,1360.7 L632.8,1362.2 L633.0,1363.7 L633.2,1365.2 L633.4,1366.7 L633.6,1368.2 L633.7,1369.7 L633.9,1371.2 L634.1,1372.6 L634.3,1374.1 L634.5,1375.6 L634.7,1377.1 L634.9,1378.6 L635.1,1380.1 L635.3,1381.6 L635.5,1383.1 L635.7,1384.5 L635.9,1386.0 L636.1,1387.5 L636.4,1389.0 L636.6,1390.5 L636.8,1392.0 L637.1,1393.5 L637.3,1394.9 L637.5,1396.4 L637.8,1397.9 L638.0,1399.4 L638.3,1400.9 L638.6,1402.3 L638.8,1403.8 L639.1,1405.3 L639.4,1406.8 L639.6,1408.3 L639.9,1409.7 L640.2,1411.2 L640.5,1412.7 L640.8,1414.2 L641.1,1415.6 L641.4,1417.1 L641.7,1418.6 L642.0,1420.1 L642.4,1421.5 L642.7,1423.0 L643.0,1424.5 L643.4,1425.9 L643.7,1427.4 L644.1,1428.9 L644.4,1430.3 L644.8,1431.8 L645.1,1433.3 L645.5,1434.7 L645.9,1436.2 L646.3,1437.7 L646.7,1439.1 L647.1,1440.6 L647.5,1442.1 L647.9,1443.5 L648.3,1445.0 L648.8,1446.4 L649.2,1447.9 L649.6,1449.3 L650.1,1450.8 L650.6,1452.2 L651.0,1453.6 L651.5,1455.1 L652.0,1456.5 L652.5,1457.9 L653.1,1459.3 L653.6,1460.7 L654.2,1462.1 L654.7,1463.5 L655.3,1464.9 L655.9,1466.3 L656.5,1467.6 L657.1,1469.0 L657.7,1470.3 L658.4,1471.7 L659.1,1473.0 L659.7,1474.3 L660.4,1475.6 L661.2,1476.9 L661.9,1478.2 L662.7,1479.5 L663.4,1480.7 L664.2,1482.0 L665.0,1483.2 L665.9,1484.5 L666.7,1485.7 L667.6,1486.9 L668.5,1488.0 L669.4,1489.2 L670.3,1490.4 L671.3,1491.5 L672.3,1492.6 L673.3,1493.7 L674.3,1494.8 L675.3,1495.9 L676.4,1496.9 L677.5,1498.0 L678.6,1499.0 L679.8,1500.0 L681.0,1500.9 L682.2,1501.9 L683.4,1502.8 L684.6,1503.8 L685.9,1504.7 L687.2,1505.5 L688.6,1506.4 L689.9,1507.1 L691.3,1507.9 L692.7,1508.5 L694.1,1509.1 L695.5,1509.6 L696.9,1509.9 L698.3,1510.2 L699.8,1510.3 L701.2,1510.3 L702.6,1510.2 L704.1,1509.9 L705.5,1509.6 L707.0,1509.2 L708.4,1508.7 L709.8,1508.2 L711.3,1507.6 L712.7,1507.0 L714.2,1506.4 L715.7,1505.8 L717.1,1505.2 L718.6,1504.7 L720.1,1504.2 L721.6,1503.7 L723.1,1503.3 L724.5,1502.9 L726.0,1502.5 L727.5,1502.2 L729.0,1501.8 L730.4,1501.5 L731.9,1501.1 L733.3,1500.7 L734.7,1500.3 L736.1,1499.8 L737.5,1499.3 L738.8,1498.7 L740.2,1498.1 L741.5,1497.4 L742.7,1496.6 L744.0,1495.9 L745.2,1495.0 L746.5,1494.2 L747.7,1493.3 L748.9,1492.4 L750.1,1491.4 L751.3,1490.5 L752.4,1489.5 L753.6,1488.6 L754.8,1487.6 L756.0,1486.7 L757.2,1485.7 L758.4,1484.8 L759.6,1483.9 L760.8,1482.9 L762.0,1482.0 L763.2,1481.1 L764.4,1480.2 L765.6,1479.3 L766.8,1478.4 L768.0,1477.6 L769.2,1476.7 L770.5,1475.9 L771.7,1475.1 L773.0,1474.3 L774.2,1473.5 L775.5,1472.7 L776.8,1472.0 L778.1,1471.2 L779.4,1470.5 L780.7,1469.8 L782.0,1469.1 L783.4,1468.5 L784.7,1467.9 L786.1,1467.3 L787.4,1466.7 L788.8,1466.1 L790.2,1465.6 L791.6,1465.1 L793.1,1464.6 L794.5,1464.1 L795.9,1463.7 L797.4,1463.2 L798.8,1462.8 L800.3,1462.4 L801.7,1462.0 L803.2,1461.6 L804.7,1461.2 L806.2,1460.8 L807.6,1460.5 L809.1,1460.1 L810.6,1459.8 L812.1,1459.4 L813.6,1459.1 L815.0,1458.8 L816.5,1458.5 L818.0,1458.1 L819.5,1457.8 L820.9,1457.5 L822.4,1457.1 L823.9,1456.8 L825.3,1456.5 L826.8,1456.2 L828.2,1455.8 L829.7,1455.5 L831.1,1455.1 L832.6,1454.8 L834.0,1454.5 L835.5,1454.1 L836.9,1453.7 L838.3,1453.4 L839.8,1453.0 L841.2,1452.6 L842.7,1452.3 L844.1,1451.9 L845.6,1451.5 L847.0,1451.1 L848.4,1450.7 L849.9,1450.3 L851.3,1449.9 L852.8,1449.5 L854.3,1449.0 L855.7,1448.6 L857.2,1448.2 L858.6,1447.7 L860.1,1447.2 L861.6,1446.8 L863.1,1446.3 L864.6,1445.9 L866.0,1445.5 L867.5,1445.1 L869.0,1444.8 L870.5,1444.5 L871.9,1444.3 L873.4,1444.2 L874.9,1444.2 L876.3,1444.3 L877.8,1444.5 L879.2,1444.8 L880.6,1445.1 L882.1,1445.5 L883.5,1445.9 L884.9,1446.4 L886.4,1446.9 L887.8,1447.3 L889.3,1447.7 L890.8,1448.1 L892.3,1448.4 L893.7,1448.7 L895.2,1448.9 L896.7,1449.1 L898.2,1449.2 L899.8,1449.3 L901.3,1449.4 L902.8,1449.4 L904.3,1449.3 L905.8,1449.2 L907.3,1449.1 L908.8,1448.9 L910.3,1448.6 L911.8,1448.3 L913.3,1448.0 L914.8,1447.7 L916.3,1447.3 L917.7,1447.0 L919.2,1446.7 L920.7,1446.5 L922.2,1446.3 L923.6,1446.2 L925.1,1446.1 L926.6,1446.2 L928.1,1446.4 L929.5,1446.6 L931.0,1446.9 L932.5,1447.2 L934.0,1447.6 L935.4,1447.9 L936.9,1448.2 L938.4,1448.5 L939.9,1448.7 L941.4,1448.8 L942.8,1448.8 L944.3,1448.7 L945.8,1448.6 L947.3,1448.4 L948.8,1448.1 L950.3,1447.9 L951.8,1447.6 L953.3,1447.4 L954.8,1447.2 L956.3,1447.1 L957.7,1447.1 L959.2,1447.1 L960.7,1447.3 L962.2,1447.5 L963.6,1447.7 L965.1,1448.0 L966.6,1448.4 L968.1,1448.7 L969.5,1449.1 L971.0,1449.5 L972.5,1449.9 L973.9,1450.3 L975.4,1450.6 L976.9,1451.0 L978.4,1451.2 L979.9,1451.5 L981.3,1451.7 L982.8,1451.9 L984.3,1452.1 L985.8,1452.3 L987.3,1452.5 L988.8,1452.6 L990.3,1452.7 L991.8,1452.8 L993.3,1453.0 L994.8,1453.1 L996.3,1453.2 L997.8,1453.3 L999.3,1453.4 L1000.8,1453.5 L1002.3,1453.7 L1003.7,1453.8 L1005.2,1453.9 L1006.7,1454.1 L1008.2,1454.3 L1009.7,1454.5 L1011.2,1454.7 L1012.7,1454.9 L1014.2,1455.1 L1015.7,1455.4 L1017.1,1455.7 L1018.6,1456.0 L1020.1,1456.3 L1021.6,1456.7 L1023.0,1457.1 L1024.5,1457.5 L1025.9,1457.9 L1027.4,1458.4 L1028.8,1458.9 L1030.3,1459.5 L1031.7,1460.1 L1033.2,1460.6 L1034.6,1461.1 L1036.0,1461.5 L1037.3,1461.7 L1038.7,1461.8 L1040.0,1461.7 L1041.3,1461.3 L1042.6,1460.8 L1043.9,1460.1 L1045.1,1459.3 L1046.4,1458.5 L1047.7,1457.7 L1049.0,1456.9 L1050.3,1456.1 L1051.7,1455.4 L1053.1,1454.8 L1054.5,1454.2 L1055.9,1453.7 L1057.3,1453.2 L1058.8,1452.8 L1060.3,1452.4 L1061.8,1452.1 L1063.3,1451.7 L1064.8,1451.5 L1066.4,1451.3 L1067.9,1451.1 L1069.5,1451.0 L1071.0,1451.0 L1072.5,1451.0 L1074.0,1451.2 L1075.5,1451.5 L1077.0,1451.9 L1078.4,1452.5 L1079.7,1453.3 L1081.0,1454.2 L1082.3,1455.2 L1083.5,1456.2 L1084.7,1457.2 L1085.9,1458.2 L1087.1,1459.0 L1088.3,1459.6 L1089.5,1459.9 L1090.7,1459.9 L1092.0,1459.6 L1093.2,1459.1 L1094.5,1458.4 L1095.8,1457.6 L1097.2,1456.8 L1098.5,1456.1 L1099.9,1455.6 L1101.4,1455.2 L1102.8,1455.0 L1104.3,1454.9 L1105.7,1454.9 L1107.2,1455.0 L1108.7,1455.2 L1110.3,1455.5 L1111.8,1455.8 L1113.3,1456.1 L1114.9,1456.4 L1116.4,1456.8 L1117.9,1457.1 L1119.5,1457.3 L1121.0,1457.5 L1122.5,1457.7 L1124.0,1457.7 L1125.5,1457.7 L1127.0,1457.6 L1128.5,1457.4 L1130.0,1457.2 L1131.5,1456.9 L1133.0,1456.6 L1134.4,1456.3 L1135.9,1455.9 L1137.4,1455.5 L1138.8,1455.1 L1140.3,1454.7 L1141.7,1454.3 L1143.2,1453.9 L1144.6,1453.5 L1146.1,1453.0 L1147.5,1452.6 L1148.9,1452.2 L1150.4,1451.8 L1151.8,1451.4 L1153.3,1451.0 L1154.7,1450.6 L1156.2,1450.3 L1157.6,1449.9 L1159.1,1449.5 L1160.5,1449.2 L1162.0,1448.8 L1163.4,1448.5 L1164.9,1448.2 L1166.3,1447.9 L1167.8,1447.6 L1169.3,1447.3 L1170.8,1447.0 L1172.2,1446.8 L1173.7,1446.5 L1175.2,1446.3 L1176.7,1446.1 L1178.2,1445.9 L1179.7,1445.7 L1181.2,1445.5 L1182.7,1445.3 L1184.2,1445.1 L1185.7,1444.9 L1187.2,1444.7 L1188.7,1444.4 L1190.1,1444.0 L1191.6,1443.7 L1193.0,1443.2 L1194.4,1442.7 L1195.8,1442.2 L1197.2,1441.6 L1198.5,1441.0 L1199.9,1440.3 L1201.2,1439.7 L1202.6,1439.1 L1204.0,1438.4 L1205.3,1437.9 L1206.7,1437.3 L1208.2,1436.8 L1209.6,1436.4 L1211.0,1436.0 L1212.5,1435.7 L1213.9,1435.4 L1215.4,1435.1 L1216.9,1434.9 L1218.4,1434.6 L1219.9,1434.4 L1221.4,1434.3 L1222.9,1434.1 L1224.4,1433.9 L1225.9,1433.7 L1227.5,1433.5 L1229.0,1433.4 L1230.5,1433.1 L1231.9,1432.9 L1233.4,1432.7 L1234.9,1432.4 L1236.4,1432.1 L1237.8,1431.7 L1239.3,1431.3 L1240.7,1430.9 L1242.1,1430.4 L1243.5,1429.8 L1244.8,1429.2 L1246.2,1428.5 L1247.5,1427.8 L1248.9,1427.1 L1250.2,1426.3 L1251.5,1425.6 L1252.8,1424.8 L1254.2,1424.1 L1255.5,1423.5 L1256.9,1422.8 L1258.3,1422.3 L1259.7,1421.7 L1261.1,1421.2 L1262.5,1420.8 L1264.0,1420.4 L1265.4,1420.0 L1266.9,1419.6 L1268.3,1419.3 L1269.8,1418.9 L1271.3,1418.6 L1272.7,1418.3 L1274.2,1417.9 L1275.7,1417.6 L1277.1,1417.2 L1278.6,1416.9 L1280.1,1416.5 L1281.5,1416.1 L1282.9,1415.6 L1284.4,1415.2 L1285.8,1414.7 L1287.2,1414.3 L1288.7,1413.7 L1290.1,1413.2 L1291.5,1412.7 L1292.9,1412.2 L1294.3,1411.6 L1295.7,1411.1 L1297.1,1410.6 L1298.5,1410.2 L1299.9,1409.7 L1301.3,1409.3 L1302.8,1409.0 L1304.2,1408.7 L1305.7,1408.5 L1307.1,1408.3 L1308.6,1408.1 L1310.0,1408.1 L1311.5,1408.0 L1313.0,1408.0 L1314.5,1408.0 L1316.0,1408.1 L1317.5,1408.2 L1319.0,1408.3 L1320.5,1408.5 L1322.0,1408.7 L1323.5,1408.9 L1325.0,1409.1 L1326.5,1409.3 L1328.1,1409.6 L1329.6,1409.9 L1331.1,1410.2 L1332.6,1410.4 L1334.1,1410.7 L1335.6,1411.0 L1337.2,1411.3 L1338.7,1411.6 L1340.2,1411.9 L1341.7,1412.2 L1343.2,1412.5 L1344.7,1412.7 L1346.1,1412.9 L1347.6,1413.2 L1349.1,1413.4 L1350.6,1413.6 L1352.0,1413.8 L1353.5,1414.1 L1355.0,1414.3 L1356.4,1414.5 L1357.9,1414.7 L1359.3,1414.9 L1360.8,1415.2 L1362.3,1415.4 L1363.7,1415.7 L1365.2,1415.9 L1366.6,1416.2 L1368.0,1416.5 L1369.5,1416.8 L1370.9,1417.1 L1372.4,1417.5 L1373.8,1417.9 L1375.3,1418.3 L1376.7,1418.7 L1378.2,1419.2 L1379.7,1419.6 L1381.1,1420.2 L1382.6,1420.7 L1384.0,1421.2 L1385.5,1421.7 L1386.9,1422.1 L1388.4,1422.5 L1389.8,1422.7 L1391.2,1422.7 L1392.6,1422.6 L1394.0,1422.3 L1395.4,1421.9 L1396.8,1421.4 L1398.2,1420.8 L1399.6,1420.1 L1400.9,1419.3 L1402.3,1418.6 L1403.7,1417.8 L1405.1,1417.1 L1406.6,1416.4 L1408.0,1415.7 L1409.4,1415.1 L1410.9,1414.5 L1412.4,1414.0 L1413.8,1413.6 L1415.3,1413.2 L1416.8,1412.9 L1418.3,1412.6 L1419.8,1412.5 L1421.2,1412.4 L1422.7,1412.3 L1424.2,1412.4 L1425.6,1412.6 L1427.1,1412.8 L1428.5,1413.1 L1429.9,1413.6 L1431.4,1414.0 L1432.8,1414.6 L1434.2,1415.1 L1435.6,1415.6 L1437.0,1416.1 L1438.5,1416.5 L1439.9,1416.8 L1441.4,1417.0 L1442.9,1417.1 L1444.3,1417.2 L1445.8,1417.2 L1447.3,1417.2 L1448.8,1417.1 L1450.3,1417.0 L1451.9,1417.0 L1453.4,1416.9 L1454.9,1416.8 L1456.4,1416.8 L1457.9,1416.9 L1459.5,1417.0 L1461.0,1417.1 L1462.5,1417.4 L1464.0,1417.6 L1465.4,1418.0 L1466.9,1418.4 L1468.3,1418.8 L1469.7,1419.3 L1471.1,1419.9 L1472.5,1420.6 L1473.8,1421.3 L1475.2,1422.1 L1476.4,1422.9 L1477.7,1423.8 L1478.9,1424.8 L1480.1,1425.7 L1481.3,1426.7 L1482.4,1427.7 L1483.6,1428.6 L1484.8,1429.6 L1486.0,1430.5 L1487.3,1431.3 L1488.6,1432.0 L1489.9,1432.7 L1491.2,1433.4 L1492.6,1434.0 L1493.9,1434.5 L1495.3,1435.0 L1496.8,1435.4 L1498.2,1435.8 L1499.6,1436.2 L1501.1,1436.6 L1502.6,1437.0 L1504.0,1437.3 L1505.5,1437.6 L1507.0,1438.0 L1508.4,1438.3 L1509.9,1438.7 L1511.4,1439.1 L1512.8,1439.5 L1514.3,1439.9 L1515.7,1440.4 L1517.1,1440.9 L1518.5,1441.4 L1519.9,1442.0 L1521.3,1442.5 L1522.6,1443.2 L1524.0,1443.8 L1525.4,1444.4 L1526.7,1445.1 L1528.0,1445.8 L1529.4,1446.5 L1530.7,1447.2 L1532.0,1447.9 L1533.3,1448.7 L1534.7,1449.4 L1536.0,1450.1 L1537.3,1450.8 L1538.6,1451.5 L1540.0,1452.2 L1541.3,1452.9 L1542.6,1453.6 L1544.0,1454.3 L1545.3,1454.9 L1546.7,1455.5 L1548.0,1456.1 L1549.4,1456.7 L1550.8,1457.2 L1552.2,1457.8 L1553.6,1458.2 L1555.0,1458.7 L1556.5,1459.1 L1557.9,1459.4 L1559.4,1459.7 L1560.9,1460.0 L1562.4,1460.2 L1563.9,1460.3 L1565.5,1460.4 L1567.0,1460.5" fill="none" stroke="#0000ff" stroke-width="7" stroke-linejoin="round" stroke-linecap="round"/>
<path d="M203.8,2243.6 L205.0,2242.9 L206.3,2242.2 L207.7,2241.5 L209.1,2240.9 L210.5,2240.3 L211.9,2239.7 L213.3,2239.1 L214.7,2238.4 L216.1,2237.8 L217.5,2237.1 L218.8,2236.4 L220.1,2235.7 L221.3,2234.9 L222.5,2234.0 L223.6,2233.1 L224.7,2232.2 L225.8,2231.3 L227.0,2230.4 L228.2,2229.6 L229.4,2228.8 L230.8,2228.1 L232.1,2227.5 L233.5,2226.9 L235.0,2226.3 L236.4,2225.7 L237.8,2225.1 L239.3,2224.4 L240.7,2223.8 L242.0,2223.1 L243.4,2222.4 L244.7,2221.7 L246.0,2220.9 L247.2,2220.1 L248.5,2219.3 L249.7,2218.4 L250.9,2217.6 L252.1,2216.7 L253.3,2215.8 L254.5,2214.9 L255.6,2213.9 L256.7,2213.0 L257.8,2212.0 L258.9,2211.0 L260.0,2210.0 L261.1,2208.9 L262.1,2207.9 L263.2,2206.8 L264.2,2205.7 L265.2,2204.7 L266.2,2203.6 L267.3,2202.5 L268.3,2201.4 L269.3,2200.2 L270.2,2199.1 L271.2,2198.0 L272.2,2196.8 L273.2,2195.7 L274.2,2194.5 L275.1,2193.4 L276.1,2192.2 L277.1,2191.1 L278.1,2189.9 L279.0,2188.8 L280.0,2187.6 L281.0,2186.5 L282.0,2185.3 L283.0,2184.2 L284.0,2183.1 L285.0,2181.9 L286.0,2180.8 L287.0,2179.7 L288.0,2178.5 L289.0,2177.4 L290.0,2176.3 L291.0,2175.2 L292.0,2174.1 L293.0,2172.9 L294.1,2171.8 L295.1,2170.7 L296.1,2169.6 L297.1,2168.5 L298.1,2167.4 L299.1,2166.3 L300.2,2165.1 L301.2,2164.0 L302.2,2162.9 L303.2,2161.8 L304.2,2160.7 L305.2,2159.5 L306.2,2158.4 L307.2,2157.3 L308.2,2156.2 L309.2,2155.0 L310.2,2153.9 L311.2,2152.8 L312.1,2151.6 L313.1,2150.5 L314.1,2149.3 L315.0,2148.2 L316.0,2147.0 L316.9,2145.9 L317.9,2144.7 L318.8,2143.6 L319.8,2142.4 L320.7,2141.2 L321.6,2140.0 L322.5,2138.8 L323.4,2137.6 L324.3,2136.4 L325.2,2135.2 L326.1,2134.0 L326.9,2132.8 L327.8,2131.6 L328.6,2130.3 L329.5,2129.1 L330.3,2127.9 L331.1,2126.6 L331.9,2125.3 L332.8,2124.1 L333.6,2122.8 L334.3,2121.5 L335.1,2120.3 L335.9,2119.0 L336.7,2117.7 L337.4,2116.4 L338.2,2115.1 L338.9,2113.8 L339.7,2112.5 L340.4,2111.2 L341.1,2109.9 L341.8,2108.6 L342.5,2107.2 L343.2,2105.9 L343.9,2104.6 L344.6,2103.2 L345.3,2101.9 L345.9,2100.5 L346.6,2099.2 L347.3,2097.8 L347.9,2096.5 L348.6,2095.1 L349.2,2093.8 L349.8,2092.4 L350.4,2091.0 L351.0,2089.7 L351.6,2088.3 L352.2,2086.9 L352.8,2085.5 L353.4,2084.1 L354.0,2082.7 L354.6,2081.4 L355.1,2080.0 L355.7,2078.6 L356.2,2077.2 L356.8,2075.8 L357.3,2074.4 L357.8,2073.0 L358.4,2071.6 L358.9,2070.2 L359.4,2068.8 L359.9,2067.3 L360.4,2065.9 L360.9,2064.5 L361.4,2063.1 L361.9,2061.7 L362.4,2060.3 L362.8,2058.9 L363.3,2057.4 L363.8,2056.0 L364.2,2054.6 L364.7,2053.2 L365.1,2051.7 L365.5,2050.3 L366.0,2048.9 L366.4,2047.4 L366.8,2046.0 L367.2,2044.6 L367.7,2043.1 L368.1,2041.7 L368.5,2040.2 L368.9,2038.8 L369.3,2037.4 L369.6,2035.9 L370.0,2034.5 L370.4,2033.0 L370.8,2031.6 L371.2,2030.1 L371.5,2028.7 L371.9,2027.2 L372.2,2025.8 L372.6,2024.3 L372.9,2022.8 L373.3,2021.4 L373.6,2019.9 L374.0,2018.5 L374.3,2017.0 L374.6,2015.5 L374.9,2014.1 L375.3,2012.6 L375.6,2011.1 L375.9,2009.7 L376.2,2008.2 L376.5,2006.7 L376.8,2005.3 L377.1,2003.8 L377.4,2002.3 L377.7,2000.8 L378.0,1999.4 L378.3,1997.9 L378.5,1996.4 L378.8,1994.9 L379.1,1993.5 L379.4,1992.0 L379.6,1990.5 L379.9,1989.0 L380.2,1987.6 L380.4,1986.1 L380.7,1984.6 L381.0,1983.1 L381.2,1981.6 L381.5,1980.1 L381.7,1978.7 L382.0,1977.2 L382.2,1975.7 L382.4,1974.2 L382.7,1972.7 L382.9,1971.2 L383.2,1969.7 L383.4,1968.3 L383.6,1966.8 L383.9,1965.3 L384.1,1963.8 L384.3,1962.3 L384.5,1960.8 L384.8,1959.3 L385.0,1957.8 L385.2,1956.3 L385.4,1954.8 L385.6,1953.4 L385.9,1951.9 L386.1,1950.4 L386.3,1948.9 L386.5,1947.4 L386.7,1945.9 L386.9,1944.4 L387.1,1942.9 L387.3,1941.4 L387.5,1939.9 L387.8,1938.4 L388.0,1936.9 L388.2,1935.5 L388.4,1934.0 L388.6,1932.5 L388.8,1931.0 L389.0,1929.5 L389.2,1928.0 L389.4,1926.5 L389.6,1925.0 L389.8,1923.5 L390.0,1922.0 L390.2,1920.5 L390.4,1919.0 L390.6,1917.6 L390.8,1916.1 L391.0,1914.6 L391.2,1913.1 L391.4,1911.6 L391.6,1910.1 L391.8,1908.6 L392.0,1907.1 L392.2,1905.6 L392.5,1904.2 L392.7,1902.7 L392.9,1901.2 L393.1,1899.7 L393.3,1898.2 L393.5,1896.7 L393.7,1895.2 L393.9,1893.8 L394.1,1892.3 L394.4,1890.8 L394.6,1889.3 L394.8,1887.8 L395.0,1886.4 L395.2,1884.9 L395.4,1883.4 L395.7,1881.9 L395.9,1880.4 L396.1,1879.0 L396.3,1877.5 L396.5,1876.0 L396.8,1874.5 L397.0,1873.1 L397.2,1871.6 L397.4,1870.1 L397.7,1868.6 L397.9,1867.1 L398.1,1865.7 L398.3,1864.2 L398.5,1862.7 L398.8,1861.2 L399.0,1859.8 L399.2,1858.3 L399.4,1856.8 L399.6,1855.3 L399.9,1853.8 L400.1,1852.4 L400.3,1850.9 L400.5,1849.4 L400.7,1847.9 L400.9,1846.4 L401.2,1845.0 L401.4,1843.5 L401.6,1842.0 L401.8,1840.5 L402.0,1839.0 L402.2,1837.6 L402.4,1836.1 L402.6,1834.6 L402.8,1833.1 L403.0,1831.6 L403.2,1830.1 L403.4,1828.6 L403.6,1827.2 L403.8,1825.7 L404.0,1824.2 L404.2,1822.7 L404.4,1821.2 L404.6,1819.7 L404.7,1818.2 L404.9,1816.7 L405.1,1815.2 L405.3,1813.7 L405.5,1812.2 L405.7,1810.7 L405.8,1809.2 L406.0,1807.7 L406.2,1806.3 L406.4,1804.8 L406.5,1803.3 L406.7,1801.8 L406.9,1800.3 L407.1,1798.8 L407.3,1797.3 L407.4,1795.8 L407.6,1794.3 L407.8,1792.8 L408.0,1791.3 L408.1,1789.8 L408.3,1788.3 L408.5,1786.8 L408.7,1785.3 L408.8,1783.8 L409.0,1782.3 L409.2,1780.8 L409.4,1779.3 L409.5,1777.8 L409.7,1776.3 L409.9,1774.8 L410.1,1773.3 L410.3,1771.8 L410.5,1770.4 L410.6,1768.9 L410.8,1767.4 L411.0,1765.9 L411.2,1764.4 L411.4,1762.9 L411.6,1761.4 L411.8,1759.9 L412.0,1758.4 L412.2,1757.0 L412.4,1755.5 L412.6,1754.0 L412.8,1752.5 L413.0,1751.0 L413.2,1749.5 L413.5,1748.1 L413.7,1746.6 L413.9,1745.1 L414.2,1743.6 L414.4,1742.2 L414.7,1740.7 L414.9,1739.2 L415.2,1737.7 L415.5,1736.3 L415.7,1734.8 L416.0,1733.3 L416.3,1731.9 L416.6,1730.4 L417.0,1728.9 L417.3,1727.5 L417.6,1726.0 L418.0,1724.6 L418.3,1723.1 L418.7,1721.6 L419.1,1720.2 L419.5,1718.7 L419.9,1717.3 L420.3,1715.8 L420.7,1714.4 L421.1,1713.0 L421.6,1711.5 L422.0,1710.1 L422.5,1708.6 L423.0,1707.2 L423.5,1705.8 L424.0,1704.3 L424.6,1702.9 L425.1,1701.5 L425.7,1700.1 L426.3,1698.6 L426.9,1697.2 L427.5,1695.8 L428.1,1694.4 L428.8,1693.0 L429.5,1691.6 L430.2,1690.3 L431.0,1689.1 L431.9,1688.3 L433.0,1687.9 L434.3,1687.9 L435.6,1688.4 L437.0,1689.2 L438.4,1690.3 L439.6,1691.5 L440.6,1692.7 L441.4,1694.0 L442.1,1695.4 L442.6,1696.9 L443.1,1698.3 L443.5,1699.8 L443.8,1701.3 L444.2,1702.8 L444.5,1704.3 L444.9,1705.8 L445.2,1707.2 L445.6,1708.7 L445.9,1710.2 L446.3,1711.7 L446.6,1713.1 L447.0,1714.6 L447.4,1716.0 L447.7,1717.5 L448.1,1718.9 L448.4,1720.4 L448.8,1721.8 L449.2,1723.3 L449.5,1724.7 L449.9,1726.2 L450.2,1727.6 L450.6,1729.1 L450.9,1730.5 L451.2,1732.0 L451.6,1733.4 L451.9,1734.9 L452.2,1736.3 L452.5,1737.8 L452.8,1739.3 L453.1,1740.7 L453.5,1742.2 L453.8,1743.6 L454.1,1745.1 L454.4,1746.6 L454.7,1748.1 L454.9,1749.5 L455.2,1751.0 L455.5,1752.5 L455.8,1753.9 L456.1,1755.4 L456.4,1756.9 L456.7,1758.4 L456.9,1759.8 L457.2,1761.3 L457.5,1762.8 L457.8,1764.3 L458.0,1765.7 L458.3,1767.2 L458.6,1768.7 L458.9,1770.2 L459.1,1771.7 L459.4,1773.1 L459.7,1774.6 L460.0,1776.1 L460.2,1777.6 L460.5,1779.1 L460.8,1780.5 L461.1,1782.0 L461.3,1783.5 L461.6,1785.0 L461.9,1786.5 L462.2,1787.9 L462.5,1789.4 L462.8,1790.9 L463.0,1792.4 L463.3,1793.8 L463.6,1795.3 L463.9,1796.8 L464.2,1798.3 L464.5,1799.7 L464.8,1801.2 L465.1,1802.7 L465.4,1804.2 L465.7,1805.6 L466.0,1807.1 L466.4,1808.6 L466.7,1810.0 L467.0,1811.5 L467.3,1813.0 L467.7,1814.4 L468.0,1815.9 L468.3,1817.3 L468.7,1818.8 L469.0,1820.3 L469.4,1821.7 L469.7,1823.2 L470.1,1824.6 L470.4,1826.1 L470.8,1827.5 L471.2,1829.0 L471.5,1830.5 L471.9,1831.9 L472.3,1833.3 L472.7,1834.8 L473.1,1836.2 L473.5,1837.7 L473.9,1839.1 L474.3,1840.6 L474.7,1842.0 L475.1,1843.4 L475.5,1844.9 L476.0,1846.3 L476.4,1847.7 L476.8,1849.2 L477.3,1850.6 L477.7,1852.0 L478.2,1853.5 L478.7,1854.9 L479.1,1856.3 L479.6,1857.7 L480.1,1859.1 L480.6,1860.6 L481.1,1862.0 L481.6,1863.4 L482.1,1864.8 L482.7,1866.2 L483.2,1867.6 L483.8,1869.0 L484.4,1870.3 L485.0,1871.7 L485.6,1873.1 L486.3,1874.5 L486.9,1875.8 L487.6,1877.2 L488.4,1878.5 L489.1,1879.8 L489.9,1881.1 L490.7,1882.5 L491.5,1883.8 L492.3,1885.1 L493.2,1886.3 L494.2,1887.6 L495.1,1888.8 L496.1,1889.9 L497.2,1891.0 L498.3,1892.0 L499.4,1893.0 L500.7,1893.8 L502.0,1894.4 L503.3,1895.0 L504.7,1895.4 L506.2,1895.7 L507.7,1895.9 L509.2,1896.0 L510.7,1895.9 L512.2,1895.8 L513.7,1895.5 L515.2,1895.1 L516.7,1894.7 L518.1,1894.1 L519.5,1893.4 L520.8,1892.7 L522.1,1891.8 L523.3,1890.9 L524.4,1889.9 L525.4,1888.8 L526.5,1887.6 L527.4,1886.4 L528.3,1885.2 L529.2,1883.9 L530.0,1882.6 L530.7,1881.3 L531.4,1880.0 L532.1,1878.6 L532.8,1877.3 L533.4,1875.9 L534.0,1874.5 L534.5,1873.1 L535.1,1871.7 L535.6,1870.3 L536.1,1868.9 L536.5,1867.5 L537.0,1866.0 L537.4,1864.6 L537.8,1863.1 L538.2,1861.7 L538.6,1860.2 L538.9,1858.8 L539.3,1857.3 L539.7,1855.9 L540.0,1854.4 L540.4,1853.0 L540.7,1851.5 L541.1,1850.0 L541.4,1848.6 L541.7,1847.1 L542.1,1845.6 L542.4,1844.2 L542.7,1842.7 L543.1,1841.2 L543.4,1839.8 L543.7,1838.3 L544.0,1836.8 L544.3,1835.4 L544.6,1833.9 L544.9,1832.4 L545.2,1831.0 L545.6,1829.5 L545.9,1828.0 L546.1,1826.6 L546.4,1825.1 L546.7,1823.6 L547.0,1822.1 L547.3,1820.7 L547.6,1819.2 L547.9,1817.7 L548.2,1816.3 L548.4,1814.8 L548.7,1813.3 L549.0,1811.8 L549.3,1810.4 L549.5,1808.9 L549.8,1807.4 L550.1,1805.9 L550.3,1804.4 L550.6,1803.0 L550.9,1801.5 L551.1,1800.0 L551.4,1798.5 L551.6,1797.0 L551.9,1795.6 L552.1,1794.1 L552.4,1792.6 L552.6,1791.1 L552.9,1789.6 L553.1,1788.2 L553.4,1786.7 L553.6,1785.2 L553.9,1783.7 L554.1,1782.2 L554.3,1780.8 L554.6,1779.3 L554.8,1777.8 L555.0,1776.3 L555.3,1774.8 L555.5,1773.3 L555.7,1771.9 L556.0,1770.4 L556.2,1768.9 L556.4,1767.4 L556.7,1765.9 L556.9,1764.4 L557.1,1762.9 L557.3,1761.5 L557.6,1760.0 L557.8,1758.5 L558.0,1757.0 L558.2,1755.5 L558.4,1754.0 L558.7,1752.5 L558.9,1751.1 L559.1,1749.6 L559.3,1748.1 L559.5,1746.6 L559.7,1745.1 L559.9,1743.6 L560.2,1742.1 L560.4,1740.7 L560.6,1739.2 L560.8,1737.7 L561.0,1736.2 L561.2,1734.7 L561.4,1733.2 L561.6,1731.7 L561.8,1730.3 L562.0,1728.8 L562.2,1727.3 L562.4,1725.8 L562.6,1724.3 L562.8,1722.8 L563.0,1721.3 L563.2,1719.9 L563.4,1718.4 L563.6,1716.9 L563.8,1715.4 L564.0,1713.9 L564.2,1712.4 L564.4,1710.9 L564.6,1709.5 L564.8,1708.0 L565.0,1706.5 L565.2,1705.0 L565.4,1703.5 L565.6,1702.0 L565.8,1700.5 L566.0,1699.1 L566.2,1697.6 L566.4,1696.1 L566.5,1694.6 L566.7,1693.1 L566.9,1691.6 L567.1,1690.1 L567.3,1688.6 L567.5,1687.2 L567.7,1685.7 L567.9,1684.2 L568.1,1682.7 L568.3,1681.2 L568.5,1679.7 L568.7,1678.2 L569.0,1676.8 L569.2,1675.3 L569.4,1673.8 L569.6,1672.3 L569.8,1670.8 L570.0,1669.3 L570.2,1667.8 L570.4,1666.3 L570.6,1664.9 L570.8,1663.4 L571.1,1661.9 L571.3,1660.4 L571.5,1658.9 L571.7,1657.4 L571.9,1655.9 L572.2,1654.4 L572.4,1652.9 L572.6,1651.5 L572.8,1650.0 L573.1,1648.5 L573.3,1647.0 L573.5,1645.5 L573.8,1644.0 L574.0,1642.5 L574.3,1641.0 L574.6,1639.6 L574.9,1638.1 L575.3,1636.6 L575.7,1635.1 L576.1,1633.7 L576.5,1632.2 L577.0,1630.8 L577.6,1629.4 L578.2,1628.0 L578.8,1626.6 L579.6,1625.2 L580.4,1623.8 L581.2,1622.4 L582.1,1621.2 L583.1,1620.3 L584.1,1619.7 L585.1,1619.6 L586.1,1620.0 L587.1,1620.7 L588.1,1621.8 L589.1,1623.2 L590.0,1624.7 L590.9,1626.3 L591.6,1627.9 L592.3,1629.4 L592.9,1631.0 L593.4,1632.6 L593.9,1634.1 L594.3,1635.6 L594.7,1637.1 L595.0,1638.6 L595.2,1640.1 L595.5,1641.6 L595.7,1643.1 L595.8,1644.6 L596.0,1646.1 L596.2,1647.6 L596.3,1649.1 L596.5,1650.5 L596.6,1652.0 L596.8,1653.5 L596.9,1655.0 L597.1,1656.5 L597.2,1657.9 L597.4,1659.4 L597.5,1660.9 L597.7,1662.4 L597.8,1663.9 L598.0,1665.4 L598.1,1666.8 L598.3,1668.3 L598.4,1669.8 L598.5,1671.3 L598.7,1672.8 L598.8,1674.3 L599.0,1675.7 L599.1,1677.2 L599.3,1678.7 L599.4,1680.2 L599.6,1681.7 L599.7,1683.2 L599.8,1684.7 L600.0,1686.2 L600.1,1687.6 L600.3,1689.1 L600.4,1690.6 L600.5,1692.1 L600.7,1693.6 L600.8,1695.1 L601.0,1696.6 L601.1,1698.1 L601.2,1699.5 L601.4,1701.0 L601.5,1702.5 L601.7,1704.0 L601.8,1705.5 L601.9,1707.0 L602.1,1708.5 L602.2,1710.0 L602.3,1711.5 L602.5,1713.0 L602.6,1714.4 L602.7,1715.9 L602.9,1717.4 L603.0,1718.9 L603.1,1720.4 L603.3,1721.9 L603.4,1723.4 L603.5,1724.9 L603.7,1726.4 L603.8,1727.9 L603.9,1729.4 L604.1,1730.9 L604.2,1732.3 L604.3,1733.8 L604.5,1735.3 L604.6,1736.8 L604.7,1738.3 L604.9,1739.8 L605.0,1741.3 L605.1,1742.8 L605.2,1744.3 L605.4,1745.8 L605.5,1747.3 L605.6,1748.8 L605.8,1750.3 L605.9,1751.8 L606.0,1753.3 L606.2,1754.8 L606.3,1756.3 L606.4,1757.8 L606.5,1759.2 L606.7,1760.7 L606.8,1762.2 L606.9,1763.7 L607.0,1765.2 L607.2,1766.7 L607.3,1768.2 L607.4,1769.7 L607.6,1771.2 L607.7,1772.7 L607.8,1774.2 L607.9,1775.7 L608.1,1777.2 L608.2,1778.7 L608.3,1780.2 L608.4,1781.7 L608.6,1783.2 L608.7,1784.7 L608.8,1786.2 L608.9,1787.7 L609.1,1789.2 L609.2,1790.7 L609.3,1792.2 L609.4,1793.7 L609.6,1795.2 L609.7,1796.7 L609.8,1798.2 L609.9,1799.7 L610.1,1801.2 L610.2,1802.7 L610.3,1804.1 L610.4,1805.6 L610.6,1807.1 L610.7,1808.6 L610.8,1810.1 L610.9,1811.6 L611.1,1813.1 L611.2,1814.6 L611.3,1816.1 L611.4,1817.6 L611.6,1819.1 L611.7,1820.6 L611.8,1822.1 L611.9,1823.6 L612.1,1825.1 L612.2,1826.6 L612.3,1828.1 L612.4,1829.6 L612.6,1831.1 L612.7,1832.6 L612.8,1834.1 L612.9,1835.6 L613.1,1837.1 L613.2,1838.6 L613.3,1840.1 L613.4,1841.6 L613.6,1843.1 L613.7,1844.6 L613.8,1846.1 L613.9,1847.6 L614.1,1849.1 L614.2,1850.6 L614.3,1852.1 L614.5,1853.6 L614.6,1855.1 L614.7,1856.6 L614.8,1858.1 L615.0,1859.6 L615.1,1861.1 L615.2,1862.6 L615.3,1864.1 L615.5,1865.6 L615.6,1867.1 L615.7,1868.6 L615.8,1870.1 L616.0,1871.5 L616.1,1873.0 L616.2,1874.5 L616.4,1876.0 L616.5,1877.5 L616.6,1879.0 L616.7,1880.5 L616.9,1882.0 L617.0,1883.5 L617.1,1885.0 L617.3,1886.5 L617.4,1888.0 L617.5,1889.5 L617.6,1891.0 L617.8,1892.5 L617.9,1894.0 L618.0,1895.5 L618.2,1897.0 L618.3,1898.5 L618.4,1900.0 L618.6,1901.5 L618.7,1903.0 L618.8,1904.5 L619.0,1906.0 L619.1,1907.5 L619.2,1908.9 L619.3,1910.4 L619.5,1911.9 L619.6,1913.4 L619.7,1914.9 L619.9,1916.4 L620.0,1917.9 L620.1,1919.4 L620.3,1920.9 L620.4,1922.4 L620.5,1923.9 L620.7,1925.4 L620.8,1926.9 L620.9,1928.4 L621.1,1929.9 L621.2,1931.4 L621.3,1932.9 L621.4,1934.4 L621.6,1935.8 L621.7,1937.3 L621.8,1938.8 L622.0,1940.3 L622.1,1941.8 L622.2,1943.3 L622.4,1944.8 L622.5,1946.3 L622.6,1947.8 L622.8,1949.3 L622.9,1950.8 L623.0,1952.3 L623.1,1953.8 L623.3,1955.3 L623.4,1956.8 L623.5,1958.3 L623.7,1959.8 L623.8,1961.3 L623.9,1962.7 L624.1,1964.2 L624.2,1965.7 L624.3,1967.2 L624.4,1968.7 L624.6,1970.2 L624.7,1971.7 L624.8,1973.2 L625.0,1974.7 L625.1,1976.2 L625.2,1977.7 L625.3,1979.2 L625.5,1980.7 L625.6,1982.2 L625.7,1983.7 L625.8,1985.2 L626.0,1986.7 L626.1,1988.1 L626.2,1989.6 L626.3,1991.1 L626.5,1992.6 L626.6,1994.1 L626.7,1995.6 L626.8,1997.1 L627.0,1998.6 L627.1,2000.1 L627.2,2001.6 L627.3,2003.1 L627.5,2004.6 L627.6,2006.1 L627.7,2007.6 L627.9,2009.1 L628.0,2010.6 L628.1,2012.1 L628.2,2013.6 L628.4,2015.0 L628.5,2016.5 L628.6,2018.0 L628.8,2019.5 L628.9,2021.0 L629.0,2022.5 L629.2,2024.0 L629.3,2025.5 L629.4,2027.0 L629.6,2028.5 L629.7,2030.0 L629.9,2031.5 L630.0,2033.0 L630.2,2034.5 L630.3,2036.0 L630.5,2037.4 L630.6,2038.9 L630.8,2040.4 L630.9,2041.9 L631.1,2043.4 L631.2,2044.9 L631.4,2046.4 L631.6,2047.9 L631.7,2049.4 L631.9,2050.9 L632.1,2052.4 L632.2,2053.8 L632.4,2055.3 L632.6,2056.8 L632.8,2058.3 L633.0,2059.8 L633.1,2061.3 L633.3,2062.8 L633.5,2064.3 L633.7,2065.8 L633.9,2067.2 L634.1,2068.7 L634.3,2070.2 L634.5,2071.7 L634.8,2073.2 L635.0,2074.7 L635.2,2076.2 L635.4,2077.7 L635.6,2079.1 L635.9,2080.6 L636.1,2082.1 L636.3,2083.6 L636.6,2085.1 L636.8,2086.6 L637.1,2088.0 L637.3,2089.5 L637.6,2091.0 L637.9,2092.5 L638.1,2094.0 L638.4,2095.5 L638.7,2096.9 L639.0,2098.4 L639.2,2099.9 L639.5,2101.4 L639.8,2102.9 L640.1,2104.3 L640.4,2105.8 L640.7,2107.3 L641.1,2108.8 L641.4,2110.2 L641.7,2111.7 L642.0,2113.2 L642.4,2114.7 L642.7,2116.1 L643.0,2117.6 L643.4,2119.1 L643.7,2120.6 L644.0,2122.0 L644.4,2123.5 L644.7,2125.0 L645.1,2126.4 L645.4,2127.9 L645.7,2129.4 L646.1,2130.8 L646.4,2132.3 L646.8,2133.8 L647.1,2135.2 L647.4,2136.7 L647.8,2138.2 L648.1,2139.6 L648.4,2141.1 L648.7,2142.5 L649.1,2144.0 L649.4,2145.4 L649.7,2146.9 L650.0,2148.4 L650.3,2149.8 L650.6,2151.3 L650.9,2152.7 L651.2,2154.1 L651.5,2155.6 L651.7,2157.0 L652.0,2158.5 L652.3,2159.9 L652.6,2161.4 L652.9,2162.8 L653.2,2164.3 L653.6,2165.7 L653.9,2167.1 L654.2,2168.6 L654.5,2170.0 L654.9,2171.5 L655.2,2172.9 L655.6,2174.3 L655.9,2175.8 L656.3,2177.2 L656.7,2178.7 L657.1,2180.1 L657.5,2181.5 L657.9,2183.0 L658.4,2184.4 L658.8,2185.9 L659.3,2187.3 L659.8,2188.7 L660.3,2190.2 L660.8,2191.6 L661.4,2193.1 L661.9,2194.5 L662.5,2195.9 L663.1,2197.4 L663.7,2198.8 L664.4,2200.2 L665.0,2201.6 L665.7,2203.0 L666.4,2204.4 L667.1,2205.8 L667.8,2207.2 L668.6,2208.5 L669.4,2209.9 L670.2,2211.2 L671.0,2212.5 L671.8,2213.8 L672.7,2215.1 L673.5,2216.3 L674.4,2217.5 L675.3,2218.8 L676.3,2219.9 L677.2,2221.1 L678.2,2222.2 L679.2,2223.3 L680.2,2224.4 L681.3,2225.5 L682.3,2226.5 L683.4,2227.5 L684.5,2228.4 L685.7,2229.3 L686.8,2230.2 L688.0,2231.0 L689.2,2231.8 L690.4,2232.6 L691.6,2233.3 L692.9,2234.0 L694.2,2234.7 L695.5,2235.2 L696.8,2235.8 L698.2,2236.3 L699.6,2236.8 L701.0,2237.2 L702.4,2237.5 L703.9,2237.8 L705.3,2238.1 L706.8,2238.3 L708.3,2238.5 L709.8,2238.7 L711.4,2238.8 L712.9,2238.8 L714.4,2238.9 L716.0,2238.9 L717.5,2238.8 L719.1,2238.8 L720.7,2238.7 L722.2,2238.6 L723.8,2238.4 L725.3,2238.3 L726.9,2238.1 L728.4,2237.9 L729.9,2237.6 L731.4,2237.4 L732.9,2237.1 L734.4,2236.9 L735.9,2236.6 L737.4,2236.3 L738.9,2236.0 L740.3,2235.7 L741.8,2235.4 L743.2,2235.1 L744.7,2234.8 L746.1,2234.5 L747.6,2234.2 L749.0,2233.9 L750.4,2233.7 L751.9,2233.4 L753.3,2233.2 L754.8,2232.9 L756.2,2232.7 L757.7,2232.5 L759.1,2232.3 L760.6,2232.2 L762.1,2232.1 L763.5,2231.9 L765.0,2231.9 L766.5,2231.8 L768.0,2231.7 L769.5,2231.7 L771.0,2231.6 L772.5,2231.6 L774.0,2231.6 L775.5,2231.6 L777.0,2231.7 L778.5,2231.7 L780.0,2231.7 L781.5,2231.8 L783.0,2231.8 L784.6,2231.9 L786.1,2232.0 L787.6,2232.1 L789.1,2232.1 L790.6,2232.2 L792.2,2232.3 L793.7,2232.4 L795.2,2232.5 L796.7,2232.5 L798.2,2232.6 L799.8,2232.7 L801.3,2232.8 L802.8,2232.8 L804.3,2232.9 L805.8,2232.9 L807.3,2233.0 L808.8,2233.0 L810.3,2233.1 L811.8,2233.1 L813.3,2233.1 L814.8,2233.1 L816.3,2233.1 L817.8,2233.1 L819.3,2233.1 L820.8,2233.0 L822.3,2233.0 L823.8,2233.0 L825.3,2232.9 L826.7,2232.9 L828.2,2232.8 L829.7,2232.8 L831.2,2232.7 L832.7,2232.7 L834.2,2232.6 L835.7,2232.6 L837.2,2232.5 L838.7,2232.5 L840.2,2232.4 L841.7,2232.3 L843.2,2232.3 L844.7,2232.2 L846.2,2232.2 L847.7,2232.2 L849.2,2232.1 L850.7,2232.1 L852.2,2232.1 L853.7,2232.0 L855.2,2232.0 L856.8,2232.1 L858.3,2232.1 L859.8,2232.2 L861.3,2232.3 L862.8,2232.5 L864.3,2232.6 L865.8,2232.9 L867.3,2233.1 L868.7,2233.5 L870.2,2233.8 L871.7,2234.2 L873.1,2234.6 L874.6,2235.1 L876.0,2235.5 L877.5,2235.9 L878.9,2236.2 L880.4,2236.5 L881.8,2236.8 L883.3,2236.9 L884.8,2237.0 L886.2,2236.9 L887.7,2236.8 L889.2,2236.6 L890.7,2236.4 L892.1,2236.1 L893.6,2235.8 L895.1,2235.5 L896.6,2235.3 L898.1,2235.0 L899.6,2234.7 L901.1,2234.5 L902.6,2234.4 L904.1,2234.3 L905.6,2234.3 L907.1,2234.3 L908.6,2234.3 L910.1,2234.4 L911.6,2234.5 L913.1,2234.7 L914.5,2234.9 L916.0,2235.1 L917.5,2235.4 L919.0,2235.6 L920.5,2235.9 L922.0,2236.2 L923.5,2236.5 L925.0,2236.8 L926.5,2237.1 L927.9,2237.4 L929.4,2237.7 L930.9,2238.0 L932.4,2238.3 L933.9,2238.6 L935.4,2238.9 L936.8,2239.2 L938.3,2239.5 L939.8,2239.8 L941.3,2240.1 L942.8,2240.4 L944.2,2240.7 L945.7,2240.9 L947.2,2241.2 L948.7,2241.4 L950.2,2241.7 L951.6,2241.9 L953.1,2242.1 L954.6,2242.3 L956.1,2242.5 L957.6,2242.7 L959.1,2242.9 L960.5,2243.1 L962.0,2243.2 L963.5,2243.4 L965.0,2243.5 L966.5,2243.6 L968.0,2243.7 L969.5,2243.8 L971.0,2243.8 L972.5,2243.9 L974.0,2243.9 L975.5,2243.9 L977.0,2243.9 L978.5,2243.9 L980.0,2243.9 L981.5,2243.9 L983.0,2243.8 L984.5,2243.8 L986.0,2243.7 L987.5,2243.7 L989.0,2243.6 L990.5,2243.5 L992.0,2243.5 L993.5,2243.4 L995.0,2243.3 L996.5,2243.3 L997.9,2243.2 L999.4,2243.1 L1000.9,2243.0 L1002.4,2243.0 L1003.9,2242.9 L1005.3,2242.9 L1006.8,2242.8 L1008.3,2242.8 L1009.8,2242.7 L1011.3,2242.7 L1012.8,2242.7 L1014.3,2242.7 L1015.8,2242.7 L1017.3,2242.7 L1018.8,2242.7 L1020.4,2242.8 L1021.9,2242.8 L1023.4,2242.9 L1025.0,2242.9 L1026.6,2243.0 L1028.2,2243.2 L1029.7,2243.4 L1031.2,2243.7 L1032.7,2244.1 L1034.0,2244.7 L1035.3,2245.5 L1036.5,2246.4 L1037.5,2247.5 L1038.6,2248.4 L1039.6,2249.1 L1040.6,2249.3 L1041.6,2249.0 L1042.7,2248.3 L1043.8,2247.4 L1045.0,2246.2 L1046.1,2244.9 L1047.4,2243.6 L1048.6,2242.3 L1049.9,2241.1 L1051.3,2240.0 L1052.7,2239.1 L1054.1,2238.2 L1055.5,2237.5 L1057.0,2237.0 L1058.5,2236.5 L1060.0,2236.2 L1061.5,2236.1 L1063.0,2236.0 L1064.6,2236.1 L1066.1,2236.3 L1067.6,2236.6 L1069.2,2237.0 L1070.7,2237.6 L1072.2,2238.3 L1073.7,2239.1 L1075.2,2240.0 L1076.7,2240.9 L1078.2,2241.8 L1079.6,2242.6 L1081.0,2243.5 L1082.4,2244.2 L1083.8,2244.9 L1085.2,2245.3 L1086.5,2245.7 L1087.8,2245.8 L1089.0,2245.7 L1090.3,2245.4 L1091.5,2244.7 L1092.6,2243.9 L1093.8,2242.9 L1094.9,2241.8 L1096.1,2240.7 L1097.3,2239.7 L1098.6,2238.7 L1099.8,2237.9 L1101.2,2237.3 L1102.5,2236.9 L1104.0,2236.6 L1105.4,2236.4 L1106.9,2236.4 L1108.4,2236.4 L1110.0,2236.5 L1111.5,2236.7 L1113.1,2237.0 L1114.7,2237.2 L1116.3,2237.5 L1117.9,2237.8 L1119.5,2238.1 L1121.0,2238.4 L1122.6,2238.6 L1124.2,2238.7 L1125.7,2238.8 L1127.3,2238.8 L1128.8,2238.8 L1130.3,2238.7 L1131.8,2238.6 L1133.3,2238.4 L1134.8,2238.2 L1136.3,2238.0 L1137.8,2237.7 L1139.2,2237.3 L1140.7,2237.0 L1142.1,2236.6 L1143.6,2236.2 L1145.0,2235.8 L1146.4,2235.3 L1147.9,2234.9 L1149.3,2234.4 L1150.7,2234.0 L1152.2,2233.5 L1153.6,2233.0 L1155.0,2232.5 L1156.4,2232.0 L1157.9,2231.6 L1159.3,2231.1 L1160.7,2230.7 L1162.2,2230.3 L1163.6,2229.8 L1165.1,2229.5 L1166.5,2229.1 L1168.0,2228.8 L1169.5,2228.5 L1171.0,2228.2 L1172.4,2228.0 L1173.9,2227.8 L1175.5,2227.7 L1177.0,2227.6 L1178.5,2227.5 L1180.0,2227.4 L1181.5,2227.4 L1183.0,2227.3 L1184.5,2227.2 L1186.0,2227.0 L1187.5,2226.8 L1188.9,2226.6 L1190.4,2226.2 L1191.8,2225.8 L1193.2,2225.3 L1194.5,2224.8 L1195.8,2224.1 L1197.2,2223.4 L1198.4,2222.6 L1199.7,2221.8 L1201.0,2221.0 L1202.3,2220.2 L1203.6,2219.4 L1204.9,2218.6 L1206.2,2217.9 L1207.6,2217.3 L1208.9,2216.8 L1210.4,2216.4 L1211.8,2216.1 L1213.3,2215.9 L1214.8,2215.7 L1216.3,2215.7 L1217.9,2215.7 L1219.4,2215.7 L1221.0,2215.7 L1222.5,2215.8 L1224.0,2215.8 L1225.5,2215.7 L1227.0,2215.6 L1228.5,2215.5 L1229.9,2215.2 L1231.3,2214.8 L1232.7,2214.3 L1234.0,2213.7 L1235.3,2213.0 L1236.5,2212.2 L1237.7,2211.3 L1238.9,2210.3 L1240.1,2209.3 L1241.3,2208.3 L1242.4,2207.2 L1243.6,2206.2 L1244.8,2205.1 L1245.9,2204.1 L1247.1,2203.1 L1248.3,2202.1 L1249.5,2201.2 L1250.8,2200.3 L1252.0,2199.5 L1253.3,2198.7 L1254.6,2198.0 L1255.9,2197.4 L1257.2,2196.8 L1258.6,2196.3 L1260.0,2196.0 L1261.5,2195.7 L1262.9,2195.4 L1264.4,2195.3 L1265.9,2195.1 L1267.4,2195.1 L1268.9,2195.0 L1270.5,2195.0 L1272.0,2194.9 L1273.5,2194.9 L1275.1,2194.9 L1276.6,2194.8 L1278.1,2194.7 L1279.6,2194.6 L1281.1,2194.4 L1282.6,2194.3 L1284.1,2194.1 L1285.6,2193.9 L1287.1,2193.7 L1288.6,2193.5 L1290.1,2193.3 L1291.6,2193.1 L1293.1,2192.9 L1294.6,2192.8 L1296.0,2192.6 L1297.5,2192.5 L1299.0,2192.4 L1300.5,2192.3 L1302.0,2192.3 L1303.5,2192.3 L1305.0,2192.3 L1306.5,2192.4 L1308.0,2192.4 L1309.5,2192.5 L1311.0,2192.6 L1312.5,2192.6 L1314.0,2192.7 L1315.5,2192.7 L1317.0,2192.8 L1318.5,2192.7 L1320.0,2192.7 L1321.5,2192.6 L1323.0,2192.4 L1324.5,2192.2 L1326.0,2191.9 L1327.5,2191.6 L1329.0,2191.3 L1330.5,2190.9 L1332.0,2190.5 L1333.4,2190.2 L1334.9,2189.8 L1336.4,2189.6 L1337.9,2189.3 L1339.3,2189.1 L1340.8,2189.0 L1342.3,2189.0 L1343.7,2189.1 L1345.2,2189.3 L1346.6,2189.5 L1348.1,2189.9 L1349.5,2190.3 L1350.9,2190.7 L1352.4,2191.1 L1353.9,2191.6 L1355.3,2192.0 L1356.8,2192.5 L1358.2,2192.9 L1359.7,2193.2 L1361.2,2193.4 L1362.7,2193.6 L1364.2,2193.8 L1365.7,2193.9 L1367.2,2193.9 L1368.7,2194.0 L1370.2,2194.0 L1371.7,2194.0 L1373.2,2194.0 L1374.7,2194.1 L1376.2,2194.2 L1377.7,2194.3 L1379.2,2194.4 L1380.7,2194.5 L1382.2,2194.7 L1383.7,2194.9 L1385.2,2195.0 L1386.7,2195.2 L1388.1,2195.3 L1389.6,2195.4 L1391.1,2195.5 L1392.6,2195.5 L1394.1,2195.5 L1395.5,2195.4 L1397.0,2195.3 L1398.5,2195.1 L1400.0,2195.0 L1401.5,2194.7 L1403.0,2194.5 L1404.5,2194.3 L1406.0,2194.0 L1407.4,2193.7 L1408.9,2193.4 L1410.4,2193.2 L1411.9,2192.9 L1413.4,2192.6 L1414.9,2192.3 L1416.4,2192.1 L1417.9,2191.8 L1419.4,2191.6 L1420.9,2191.5 L1422.3,2191.3 L1423.8,2191.2 L1425.3,2191.1 L1426.8,2191.1 L1428.3,2191.1 L1429.8,2191.2 L1431.3,2191.3 L1432.7,2191.5 L1434.2,2191.8 L1435.7,2192.1 L1437.2,2192.4 L1438.6,2192.7 L1440.1,2193.1 L1441.6,2193.5 L1443.1,2194.0 L1444.5,2194.4 L1446.0,2194.9 L1447.5,2195.3 L1448.9,2195.7 L1450.4,2196.2 L1451.8,2196.6 L1453.3,2197.0 L1454.8,2197.4 L1456.2,2197.7 L1457.7,2198.1 L1459.1,2198.5 L1460.6,2198.9 L1462.0,2199.2 L1463.5,2199.6 L1464.9,2200.0 L1466.3,2200.4 L1467.8,2200.8 L1469.2,2201.1 L1470.6,2201.5 L1472.1,2202.0 L1473.5,2202.4 L1474.9,2202.8 L1476.3,2203.3 L1477.7,2203.7 L1479.2,2204.2 L1480.6,2204.7 L1482.0,2205.2 L1483.4,2205.7 L1484.8,2206.2 L1486.2,2206.7 L1487.6,2207.3 L1489.0,2207.8 L1490.4,2208.3 L1491.8,2208.9 L1493.2,2209.4 L1494.6,2210.0 L1496.0,2210.5 L1497.4,2211.0 L1498.8,2211.6 L1500.2,2212.1 L1501.6,2212.7 L1503.0,2213.2 L1504.5,2213.7 L1505.9,2214.3 L1507.3,2214.8 L1508.7,2215.3 L1510.1,2215.8 L1511.5,2216.3 L1512.9,2216.8 L1514.4,2217.3 L1515.8,2217.7 L1517.2,2218.2 L1518.7,2218.6 L1520.1,2219.1 L1521.5,2219.5 L1523.0,2219.9 L1524.4,2220.3 L1525.9,2220.7 L1527.3,2221.1 L1528.8,2221.5 L1530.2,2221.9 L1531.7,2222.3 L1533.1,2222.6 L1534.6,2223.0 L1536.0,2223.4 L1537.5,2223.8 L1538.9,2224.2 L1540.4,2224.6 L1541.8,2225.0 L1543.3,2225.4 L1544.7,2225.8 L1546.1,2226.2 L1547.6,2226.6 L1549.0,2227.1 L1550.4,2227.5 L1551.9,2228.0 L1553.3,2228.5 L1554.7,2229.0 L1556.1,2229.5 L1557.5,2230.0 L1558.9,2230.6 L1560.3,2231.1 L1561.7,2231.7 L1563.1,2232.3 L1564.4,2233.0 L1565.8,2233.6 L1567.2,2234.3" fill="none" stroke="#ff00ff" stroke-width="7" stroke-linejoin="round" stroke-linecap="round"/>
<line x1="726.0" y1="594.8" x2="881.0" y2="594.8" stroke="#ff0000" stroke-width="7.5" stroke-linecap="round"/>
<line x1="763.0" y1="1367.3" x2="918.0" y2="1367.3" stroke="#0000ff" stroke-width="7.5" stroke-linecap="round"/>
<line x1="780.0" y1="2122.4" x2="933.0" y2="2122.4" stroke="#ff00ff" stroke-width="7.5" stroke-linecap="round"/>
<circle cx="1303.5" cy="1407.3" r="17.5" fill="#ff8000"/>
<circle cx="1457.8" cy="1416.8" r="17.5" fill="#ff8000"/>
<circle cx="1323.9" cy="2193.2" r="17.5" fill="#ff8000"/>
<circle cx="1430.0" cy="2191.9" r="17.5" fill="#ff8000"/>
<g font-family='"Liberation Serif", "Times New Roman", serif' fill="#000">
<text x="406.1" y="490.7" font-size="70.0" >D</text>
<text x="553.8" y="105.7" font-size="70.0" >G</text>
<text x="1258.0" y="264.8" font-size="70.0" >2D</text>
<text x="899.2" y="616.5" font-size="70.0" >YG8-10</text>
<text x="412.0" y="1058.8" font-size="70.0" >D</text>
<text x="564.2" y="965.8" font-size="70.0" >G</text>
<text x="1260.0" y="1376.5" font-size="70.0" >2D</text>
<text x="1401.7" y="1393.6" font-size="70.0" >CHx</text>
<text x="936.2" y="1388.4" font-size="70.0" >YG8-20</text>
<text x="404.7" y="1673.1" font-size="70.0" >D</text>
<text x="561.0" y="1612.2" font-size="70.0" >G</text>
<text x="1278.3" y="2166.5" font-size="70.0" >2D</text>
<text x="1375.9" y="2165.8" font-size="70.0" >CHx</text>
<text x="951.5" y="2144.6" font-size="70.0" >YG8-30</text>
<text x="206.5" y="2370.5" font-size="64.0" text-anchor="middle">1000</text>
<text x="852.0" y="2370.5" font-size="64.0" text-anchor="middle">2000</text>
<text x="1501.5" y="2370.5" font-size="64.0" text-anchor="middle">3000</text>
<text x="584.4" y="2494" font-size="77">Raman Shift (cm<tspan dy="-31" font-size="51">&#8722;1</tspan><tspan dy="31">)</tspan></text>
<text transform="translate(79,1181.7) rotate(-90)" x="0" y="0" font-size="77" text-anchor="middle">Intensity (a.u.)</text>
</g>
</svg>
</body></html>
